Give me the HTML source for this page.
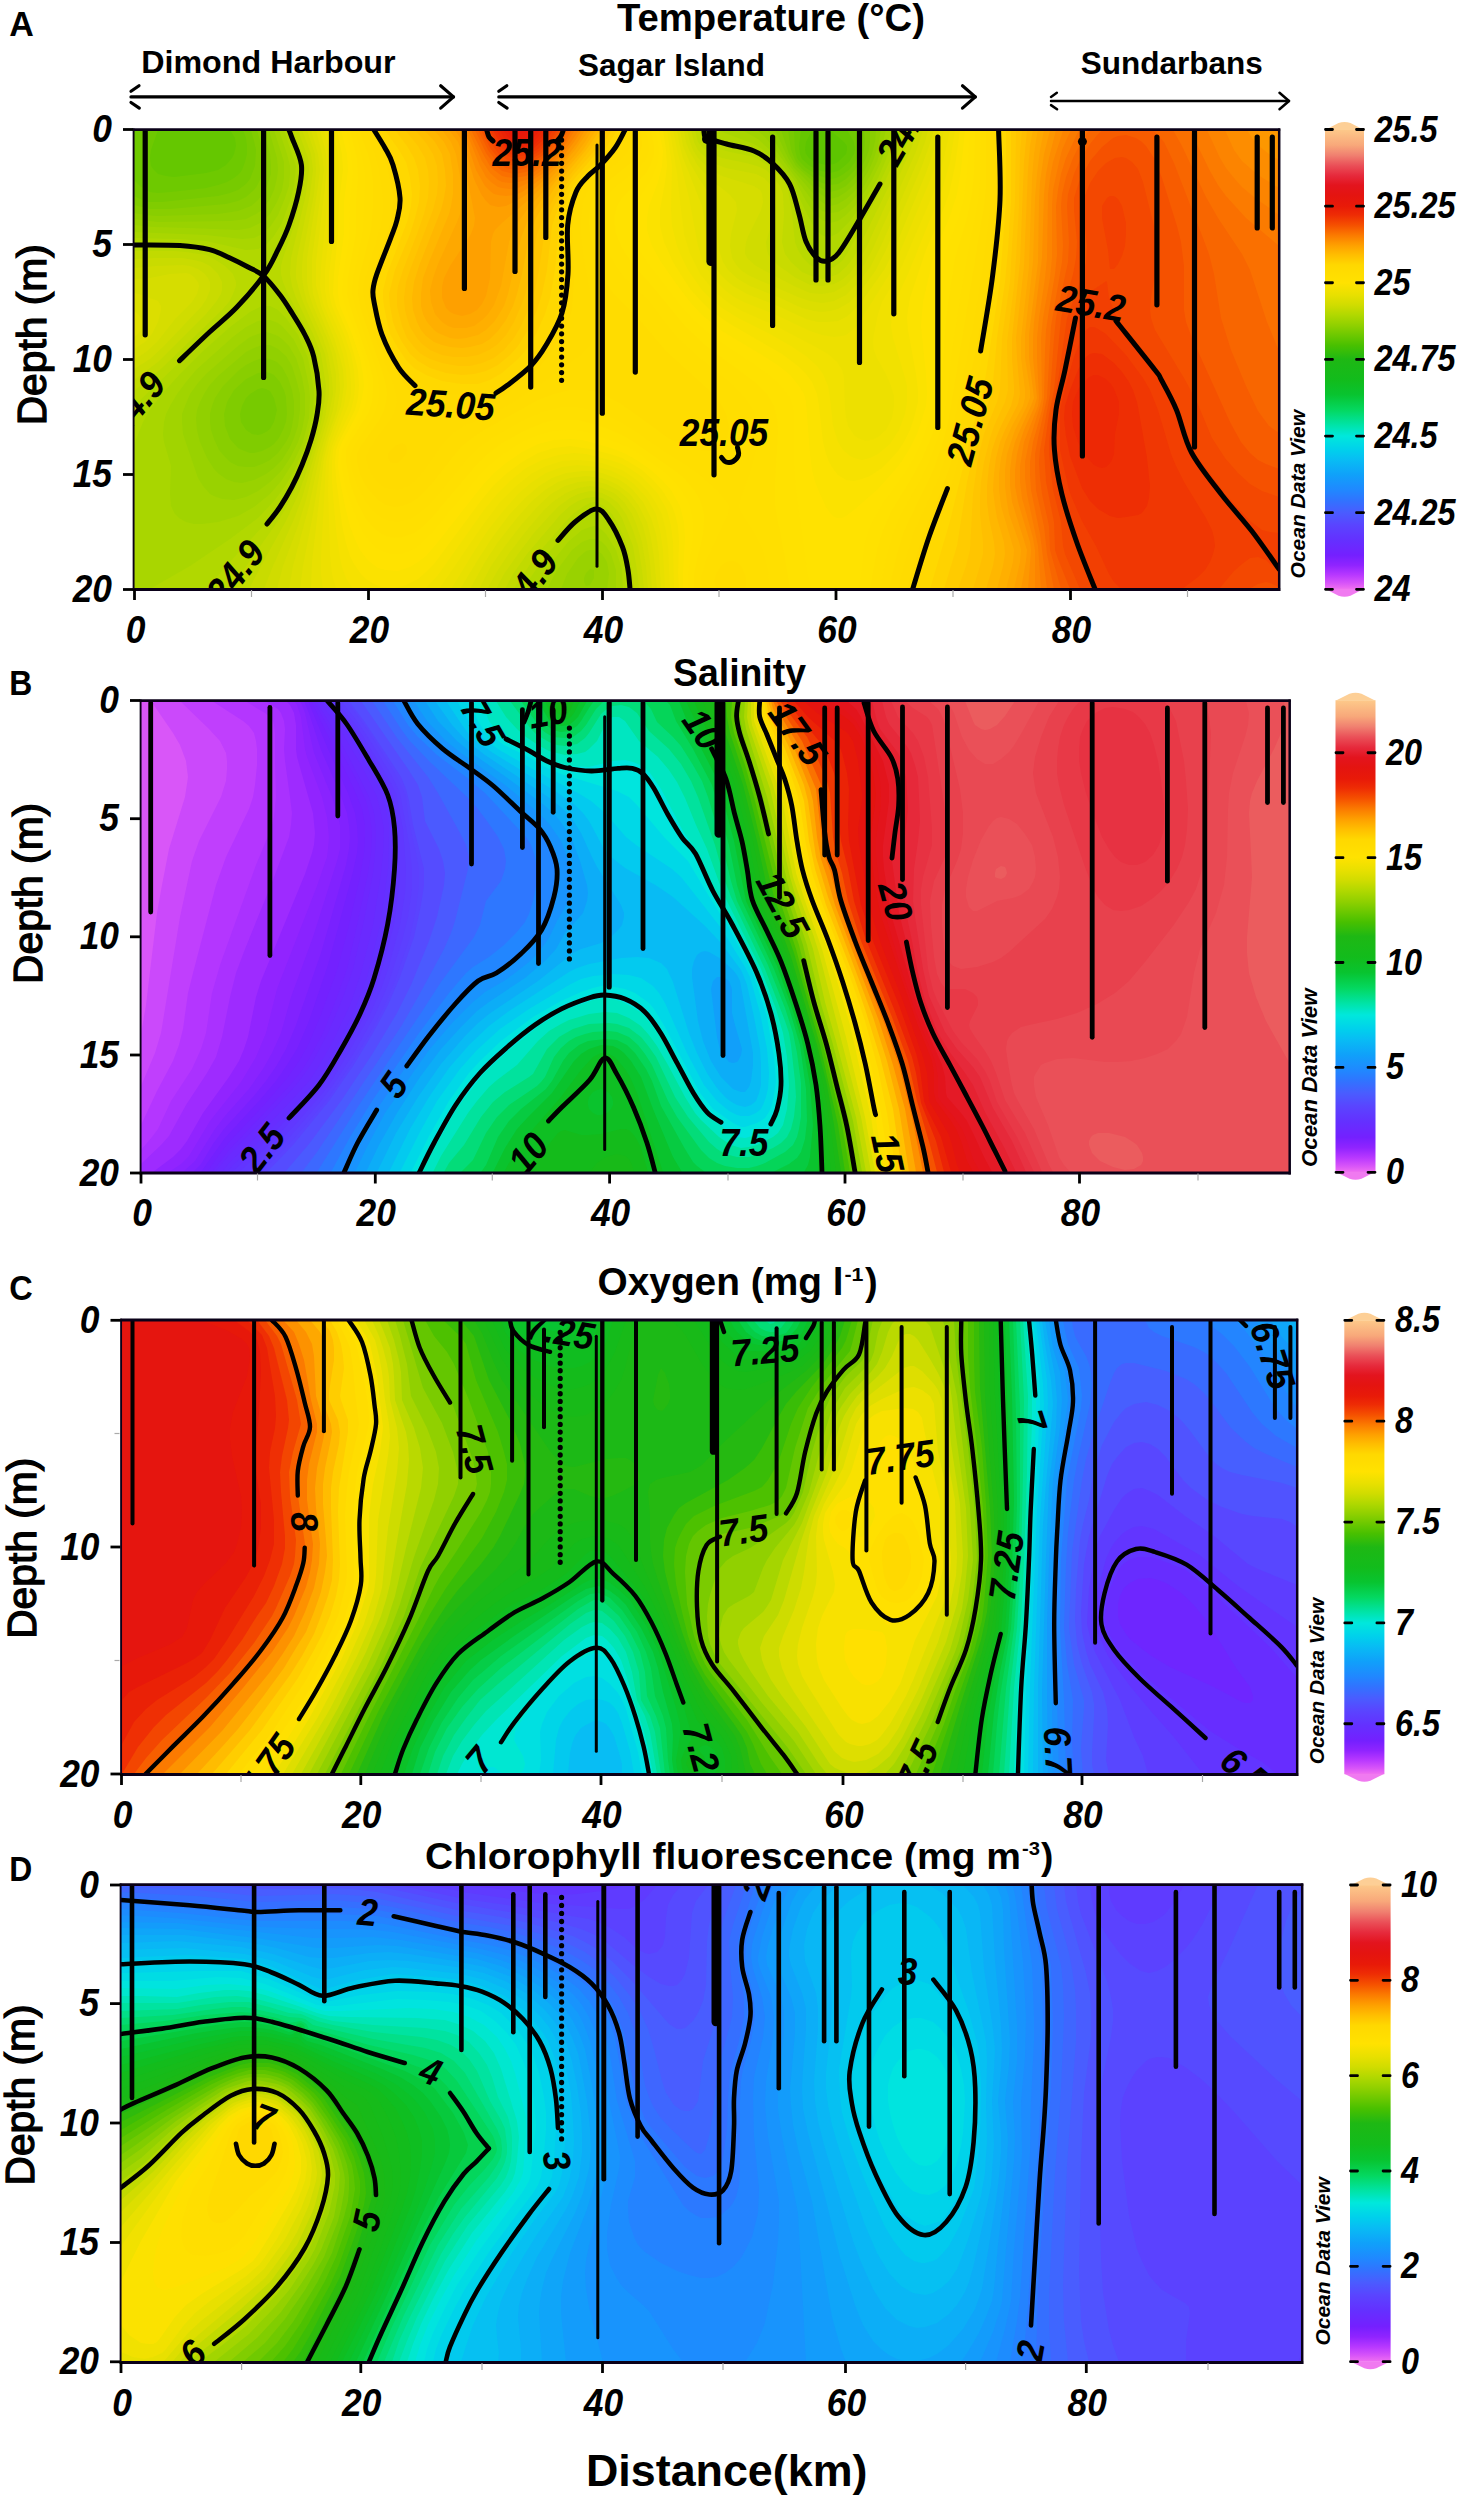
<!DOCTYPE html>
<html><head><meta charset="utf-8"><title>Hydrographic sections</title>
<style>html,body{margin:0;padding:0;background:#fff}svg{display:block}</style></head>
<body><svg width="1460" height="2500" viewBox="0 0 1460 2500">
<defs><linearGradient id="odv" x1="0" y1="0" x2="0" y2="1"><stop offset="0.0000" stop-color="#FDC98A"/><stop offset="0.0340" stop-color="#F8A87A"/><stop offset="0.0560" stop-color="#F08070"/><stop offset="0.0780" stop-color="#EA5058"/><stop offset="0.1000" stop-color="#E62A3C"/><stop offset="0.1210" stop-color="#E3141E"/><stop offset="0.1430" stop-color="#E41410"/><stop offset="0.1667" stop-color="#E81A08"/><stop offset="0.1860" stop-color="#EE2C04"/><stop offset="0.2080" stop-color="#F55000"/><stop offset="0.2300" stop-color="#FB7A00"/><stop offset="0.2520" stop-color="#FEA000"/><stop offset="0.2730" stop-color="#FFBE00"/><stop offset="0.2950" stop-color="#FFD800"/><stop offset="0.3333" stop-color="#FFE200"/><stop offset="0.3600" stop-color="#E8E000"/><stop offset="0.3820" stop-color="#D0DC00"/><stop offset="0.4040" stop-color="#B0D800"/><stop offset="0.4260" stop-color="#90D000"/><stop offset="0.4480" stop-color="#6CC800"/><stop offset="0.4700" stop-color="#48C000"/><stop offset="0.5000" stop-color="#1EB814"/><stop offset="0.5450" stop-color="#12BC1C"/><stop offset="0.5770" stop-color="#08C430"/><stop offset="0.6100" stop-color="#04D860"/><stop offset="0.6430" stop-color="#00E4A8"/><stop offset="0.6667" stop-color="#00E8DC"/><stop offset="0.6970" stop-color="#00D0EC"/><stop offset="0.7190" stop-color="#08BCF4"/><stop offset="0.7520" stop-color="#10A0FA"/><stop offset="0.7840" stop-color="#2088FF"/><stop offset="0.8060" stop-color="#3074FF"/><stop offset="0.8333" stop-color="#4A5CFF"/><stop offset="0.8610" stop-color="#5A44FF"/><stop offset="0.8930" stop-color="#6430FF"/><stop offset="0.9260" stop-color="#7420FF"/><stop offset="0.9480" stop-color="#9024FF"/><stop offset="0.9690" stop-color="#B838FF"/><stop offset="0.9870" stop-color="#D855F8"/><stop offset="1.0000" stop-color="#F070F0"/></linearGradient></defs>
<rect width="1460" height="2500" fill="#fff"/>
<clipPath id="clipA"><rect x="134" y="130" width="1145" height="459"/></clipPath><g clip-path="url(#clipA)"><rect x="134" y="130" width="1145" height="459" fill="#5dc500"/>
<path fill="#65c700" d="M134 130l680 0l-4 4l-4 8l-1 8l1 4l3 4l5 4l12 3l8-1l4-2l8-8l1-4l0-4l-3-4l-14-12l449 0l0 459l-1145 0z"/>
<path fill="#6ec900" d="M134 130l24 0l-7 20l-1 8l1 8l3 4l4 4l8 2l8 1l32-4l12-3l8-5l6-7l2-4l2-8l-1-8l-5-8l571 0l-2 16l1 8l2 5l8 7l8 4l8 2l4 1l8-2l4-3l7-6l5-8l1-4l-1-8l-7-12l432 0l0 459l-1145 0z"/>
<path fill="#77ca00" d="M243 130l551 0l1 20l2 8l3 4l6 6l12 7l8 3l4 1l6-1l6-3l8-6l5-7l4-8l1-8l-1-8l-2-8l422 0l0 459l-1145 0l0-409l6 6l6 4l4 2l8 1l12-1l36-4l12-3l9-3l7-4l5-4l3-4l3-8l2-8l0-8l-1-8z"/>
<path fill="#80cc00" d="M251 130l537 0l3 20l5 12l6 7l12 9l8 5l8 2l8-1l8-5l8-8l4-6l4-7l2-8l1-8l-1-12l415 0l0 459l-1145 0l0-393l8 4l7 2l13 0l56-6l12-3l8-3l8-6l4-5l5-13l1-16l-2-9zM258 389l-8 5l-4 4l-4 8l-2 8l1 8l5 8l6 4l6 1l4-1l4-2l4-3l4-7l3-12l-3-12l-4-7l-4-2l-4-1z"/>
<path fill="#89ce00" d="M257 130l524 0l8 24l7 12l22 20l8 5l4 1l8-2l8-4l8-8l6-8l6-12l3-8l1-8l0-12l409 0l0 459l-1145 0l0-384l16 4l20 0l56-5l12-3l8-4l8-7l3-4l4-8l2-8l1-8l-1-12zM258 373l-12 6l-12 11l-7 12l-3 12l1 12l5 13l8 9l4 2l8 3l4 0l8-2l8-4l4-3l5-6l4-8l3-8l1-8l-1-17l-2-7l-4-8l-6-7l-4-2l-4-1z"/>
<path fill="#91d000" d="M263 130l512 0l13 28l6 10l24 24l8 6l4 1l8-2l8-5l8-7l8-11l5-8l5-12l3-12l1-12l403 0l0 459l-1145 0l0-376l12 2l12 1l60-2l20-3l13-5l7-6l5-6l4-8l4-12l0-8l-1-12zM254 361l-8 4l-8 6l-15 15l-8 12l-3 8l-2 8l0 8l1 8l3 9l5 11l7 8l4 4l8 4l8 1l8 0l8-3l8-4l8-7l8-11l4-8l2-8l2-12l0-12l-2-12l-4-12l-6-11l-5-5l-7-3l-8-1z"/>
<path fill="#99d200" d="M269 130l498 0l7 10l13 22l6 8l25 29l8 6l4 1l8-2l8-5l8-7l8-11l7-11l5-12l4-12l3-16l398 0l0 459l-1145 0l0-370l24 3l72-1l16-2l10-5l6-4l8-11l4-9l3-12l1-8l-1-12zM590 569l-4 4l-2 5l0 4l2 4l4-1l4-7l0-8zM262 345l-8 3l-8 4l-28 24l-9 10l-5 8l-4 8l-3 8l-1 8l1 12l3 12l7 16l7 11l5 5l7 5l8 3l8 1l12-3l12-6l8-6l8-8l8-13l4-9l4-12l2-16l0-16l-3-12l-5-16l-6-10l-8-7l-8-4z"/>
<path fill="#a1d400" d="M274 130l483 0l9 8l8 10l40 55l8 8l8 2l8-1l8-5l8-8l10-13l6-10l7-14l5-16l4-16l393 0l0 459l-672 0l2-15l-2-12l-5-8l-4-3l-4-1l-4 0l-4 1l-8 7l-11 16l-6 15l-427 0l0-364l20 2l36 1l48 2l12-2l12-6l8-8l7-12l5-12l2-12l0-8l0-8zM258 334l-8 3l-12 9l-32 28l-8 9l-8 11l-5 12l-3 8l0 8l1 12l15 44l5 8l7 8l4 2l8 3l12 1l12-3l12-6l12-9l12-12l8-12l8-16l4-12l3-16l0-20l-3-17l-6-19l-7-12l-7-7l-4-3l-8-3l-4-1z"/>
<path fill="#a9d600" d="M279 130l463 0l16 9l12 11l26 32l10 19l8 12l8 7l8 3l8-2l8-6l8-8l12-17l7-12l8-16l11-32l387 0l0 459l-663 0l0-19l-5-16l-5-8l-4-4l-4-2l-4-1l-4 0l-8 3l-10 8l-15 20l-10 19l-413 0l0-357l72 3l36 4l12-1l8-4l8-7l8-12l7-17l4-12l1-12l0-8l-3-12zM258 321l-12 6l-12 9l-38 34l-10 12l-9 12l-7 12l-4 8l-2 8l-1 12l1 8l7 24l-1 28l1 12l4 8l4 4l7 4l8 2l8 0l16-2l20-6l16-9l16-13l12-14l12-19l9-19l6-24l1-20l-1-12l-6-28l-9-18l-4-5l-8-9l-4-3l-8-3l-4 0z"/>
<path fill="#b1d800" d="M284 130l433 0l37 14l8 5l12 10l18 23l14 30l8 15l4 5l4 3l4 2l4 0l8-4l12-12l21-31l7-12l7-16l12-32l382 0l0 459l-656 0l-1-19l-6-20l-10-16l-4-4l-4-3l-4-1l-4 1l-8 3l-14 12l-19 24l-14 23l-385 0l40-23l40-27l28-21l16-17l12-16l8-14l12-28l7-29l1-24l-6-32l-10-23l-12-17l-8-8l-8-4l-8 0l-12 6l-20 15l-28 25l-22 22l-18 20l-12 16l-7 12l-9 23l0-207l44 1l28 2l40 9l12-1l8-4l8-9l8-13l9-25l3-12l2-20z"/>
<path fill="#b9d900" d="M288 130l417 0l1 5l4 4l44 11l16 11l4 3l15 18l2 4l17 56l10 14l4 3l4 0l8-5l5-4l23-36l18-32l13-28l9-24l377 0l0 459l-650 0l-2-19l-6-24l-12-24l-11-10l-4-1l-20 13l-13 14l-20 24l-18 27l-317 0l31-35l29-31l12-15l12-19l8-16l12-31l7-28l1-24l-5-32l-9-24l-22-34l-4-5l-8-8l-4-2l-4 0l-8 6l-18 19l-27 24l-75 72l0-162l44 1l28 3l8 2l40 17l8 1l4-3l8-11l12-24l4-11l8-29l3-24z"/>
<path fill="#c1da00" d="M293 130l406 0l3 9l4 5l4 2l16 5l28 6l15 9l5 4l10 12l2 4l2 4l4 24l3 28l3 8l5 8l7 7l8 4l4 1l4 0l8-3l8-6l5-7l36-68l25-56l371 0l0 459l-645 0l-2-19l-4-20l-2-8l-9-20l-5-8l-8-8l-6-3l-4-1l-4 1l-6 3l-11 8l-7 7l-32 37l-20 31l-283 0l18-27l29-41l8-13l8-16l11-26l8-24l7-28l2-24l-5-36l-8-20l-21-40l-5-12l-2-8l0-8l2-8l11-32l8-32l3-24l0-8zM134 254l0-3l40 0l12 1l20 3l8 4l11 7l8 8l3 8l0 4l-3 8l-4 8l-7 8l-60 58l-28 23z"/>
<path fill="#c9db00" d="M298 130l397 0l3 12l4 5l8 6l12 5l24 5l11 3l9 4l8 8l6 8l3 8l1 20l-2 28l2 8l1 4l6 8l11 10l12 5l8 2l8-2l8-3l8-7l8-10l35-71l19-44l5-12l366 0l0 459l-640 0l-2-19l-4-24l-11-28l-5-8l-8-8l-7-4l-8-1l-8 1l-8 3l-8 5l-9 8l-34 40l-14 20l-8 15l-256 0l12-23l25-45l12-26l8-22l11-35l5-20l3-20l1-12l-5-32l-8-20l-17-36l-4-12l-2-12l1-16l15-64l3-24l-1-12zM153 258l29 0l12 2l8 2l8 4l8 8l4 8l0 8l-1 4l-5 8l-10 12l-48 48l-24 18l0-121z"/>
<path fill="#d0dc00" d="M302 130l389 0l3 12l4 8l4 4l8 7l8 4l8 3l30 6l8 4l6 6l4 6l2 12l-2 14l-8 26l1 8l1 4l3 4l8 8l17 12l14 7l12 1l12-2l8-4l8-7l8-11l9-16l42-92l9-24l361 0l0 459l-635 0l-2-19l-4-24l-5-16l-7-16l-8-11l-8-6l-8-4l-12-2l-12 3l-8 4l-11 8l-8 8l-17 19l-16 21l-14 20l-8 15l-232 0l9-23l21-47l8-21l23-80l4-24l0-16l-4-24l-7-18l-15-34l-4-12l-3-12l0-8l1-12l13-64l3-24l-1-8l-1-8zM156 266l26-1l8 1l8 3l7 5l3 4l2 4l0 8l-3 8l-5 8l-38 40l-14 13l-16 10l0-101z"/>
<path fill="#d6dd00" d="M307 130l380 0l3 12l3 8l5 8l8 8l8 6l8 4l32 10l6 4l2 4l1 8l-2 8l-12 24l-3 8l-1 8l0 4l2 4l9 8l38 20l16 7l12 1l12-2l12-7l11-11l9-12l8-16l41-92l8-24l356 0l0 459l-631 0l-2-23l-4-24l-5-16l-5-12l-8-12l-10-9l-12-5l-12-2l-12 2l-12 5l-12 8l-10 9l-17 20l-17 22l-12 18l-11 19l-210 0l6-23l15-40l8-26l11-46l12-40l4-20l-1-16l-4-24l-5-16l-16-36l-3-12l-2-12l0-12l1-12l11-60l2-24l-1-16zM170 274l16-1l4 1l4 3l4 5l1 4l-2 8l-5 8l-16 16l-19 24l-11 10l-12 8l0-81l16-1z"/>
<path fill="#dcde00" d="M311 130l373 0l2 12l3 8l9 16l12 13l19 15l7 8l1 8l-6 24l-1 12l2 12l5 8l5 5l8 5l48 21l12 4l12 2l12-2l12-6l12-12l13-17l10-20l38-88l6-16l3-12l351 0l0 459l-627 0l-2-27l-3-20l-4-16l-7-16l-9-12l-9-8l-12-6l-8-2l-8-1l-12 1l-13 4l-14 8l-13 12l-16 18l-17 22l-14 20l-12 23l-190 0l4-23l16-60l11-52l13-44l3-20l0-16l-4-20l-5-16l-14-32l-4-12l-2-12l0-12l0-12l11-72l2-16l-2-16zM134 294l0-1l5 1l19 7l3 5l0 4l-3 12l-6 12l-7 8l-11 7z"/>
<path fill="#e2df00" d="M316 130l364 0l3 16l7 17l8 14l14 21l3 8l3 12l0 20l1 12l4 12l5 8l10 9l12 7l28 11l24 11l12 3l8 1l8-1l8-2l12-7l12-13l14-19l10-20l36-84l7-20l5-16l345 0l0 459l-622 0l-3-31l-3-20l-4-16l-8-16l-9-12l-12-9l-8-4l-8-3l-16-2l-16 2l-12 4l-13 8l-14 12l-14 16l-19 24l-13 20l-15 27l-170 0l3-23l10-52l9-56l4-16l11-32l3-20l-1-16l-3-20l-6-16l-13-32l-4-12l-1-12l0-24l12-88l-2-16zM134 314l0-3l4 3l3 4l1 4l0 4l-1 4l-3 4l-4 3z"/>
<path fill="#e8e000" d="M320 130l357 0l2 12l4 16l19 48l2 12l3 24l3 12l5 12l5 8l6 6l7 6l14 8l31 12l28 13l12 3l8 0l12-1l8-4l4-3l12-13l22-31l10-20l32-77l8-23l5-20l340 0l0 459l-618 0l-2-35l-3-20l-5-16l-8-16l-10-12l-7-6l-8-5l-16-6l-8-2l-12 0l-16 2l-14 5l-13 8l-14 12l-15 16l-18 24l-13 20l-19 31l-149 0l1-27l12-104l4-16l13-36l3-20l-1-16l-4-16l-5-16l-13-32l-5-20l0-24l11-92l-1-16z"/>
<path fill="#ede000" d="M324 130l349 0l5 24l11 44l9 48l5 16l10 16l13 13l8 6l12 6l28 11l36 17l12 4l12 2l8-1l4-1l4-3l7-6l35-56l7-16l32-76l8-24l5-24l335 0l0 459l-614 0l-2-39l-3-20l-4-16l-9-16l-13-14l-8-6l-8-4l-8-4l-12-3l-20-2l-16 2l-16 6l-14 9l-14 12l-14 16l-16 20l-13 20l-24 39l-128 0l-2-15l0-16l5-96l4-18l14-38l3-20l-1-16l-3-16l-5-16l-14-32l-2-8l-2-12l1-20l10-96l-1-16z"/>
<path fill="#f1e100" d="M328 130l342 0l7 44l5 44l2 16l6 20l10 20l14 17l16 13l12 7l34 15l38 20l14 8l9 8l5 8l2 8l1 32l1 8l2 8l6 9l4 3l8 3l8-2l4-2l8-7l6-12l2-12l0-10l-3-10l-5-12l-9-16l-3-8l-1-8l1-8l4-20l4-12l12-20l8-16l31-72l10-32l7-32l329 0l0 459l-609 0l-2-43l-2-16l-4-16l-9-16l-6-8l-8-8l-9-7l-8-5l-8-3l-12-4l-12-2l-12-1l-16 1l-16 5l-15 8l-15 12l-16 16l-15 20l-46 67l-103 0l-4-15l-2-20l-2-64l1-28l3-16l16-40l3-12l0-12l-1-12l-3-16l-5-16l-14-32l-3-16l0-20l4-36l2-32l4-32l-1-16z"/>
<path fill="#f6e100" d="M333 130l334 0l5 36l-1 44l1 16l5 20l5 12l6 12l14 20l8 8l12 10l16 10l32 16l21 12l15 10l11 10l6 8l5 12l2 12l3 28l5 16l5 8l7 6l4 2l8 2l8-2l8-4l12-10l9-14l6-16l2-12l0-16l-3-12l-11-36l-2-12l1-12l3-12l13-28l34-84l8-28l5-32l324 0l0 459l-605 0l-1-47l-2-16l-4-16l-9-16l-7-8l-9-9l-10-7l-10-6l-12-4l-12-3l-12-3l-12-1l-16 2l-16 5l-16 8l-16 13l-13 13l-13 16l-46 65l-13 14l-72 0l-7-11l-4-11l-2-9l-4-28l-4-48l0-20l1-12l3-8l15-32l3-12l1-12l-1-16l-3-16l-7-20l-12-28l-2-8l-1-8l0-16l5-40l1-32l4-32l-1-16z"/>
<path fill="#fbe200" d="M337 130l326 0l3 20l1 16l-2 16l-5 28l0 16l4 16l9 20l10 16l8 12l11 12l8 8l20 14l52 30l16 12l8 8l6 8l5 12l2 12l4 36l3 12l3 8l5 8l4 5l8 5l8 1l8-2l8-3l12-8l8-8l8-9l6-9l6-12l4-12l4-16l0-12l-2-16l-8-44l-1-12l1-8l2-12l16-48l16-37l7-19l6-28l5-36l319 0l0 459l-600 0l-1-15l1-32l-1-16l-3-12l-3-8l-10-16l-8-9l-12-11l-8-5l-12-7l-12-4l-20-5l-20-3l-16 2l-16 5l-16 9l-16 12l-13 12l-13 16l-46 62l-8 8l-8 7l-12 6l-12 3l-12-1l-8-3l-8-5l-5-5l-7-10l-4-8l-4-13l-4-18l-6-47l-1-16l1-12l3-8l16-32l3-12l1-12l-1-16l-4-16l-6-20l-12-28l-3-12l1-20l4-40l1-32l4-32l-1-16z"/>
<path fill="#ffe200" d="M341 130l318 0l4 20l-1 16l-4 16l-9 24l-2 12l0 12l5 16l9 16l14 20l15 20l12 13l20 16l40 24l17 11l11 9l9 11l5 8l2 8l4 52l2 16l3 12l5 12l6 13l4 6l4 4l4 1l4 0l4-2l8-6l24-21l16-18l8-10l8-13l7-14l4-12l5-16l1-12l-1-20l-5-48l1-12l1-12l11-48l16-38l7-22l4-24l4-40l314 0l0 459l-596 0l0-15l2-36l-1-16l-4-16l-9-16l-9-10l-11-10l-13-9l-12-7l-12-5l-20-6l-12-3l-12-1l-16 1l-16 4l-16 8l-16 11l-12 10l-12 13l-44 56l-12 14l-8 6l-8 5l-12 4l-12-1l-8-2l-8-6l-4-4l-6-8l-6-13l-4-11l-5-20l-4-20l-3-20l1-16l3-8l11-20l6-12l3-12l2-12l-1-12l-3-16l-8-24l-12-28l-2-12l0-16l6-44l0-32l4-32l-1-16z"/>
<path fill="#ffe100" d="M346 130l309 0l4 20l-1 12l-6 16l-15 24l-4 8l-2 12l1 8l2 8l5 12l8 12l34 44l13 14l12 11l12 9l50 34l13 12l9 12l3 8l1 8l0 48l2 28l11 80l4 19l-122 0l-1-15l5-36l0-16l-3-16l-4-8l-5-8l-10-12l-9-8l-20-14l-12-8l-12-5l-20-7l-12-4l-12-2l-8 0l-12 1l-16 4l-16 7l-19 12l-13 11l-12 12l-48 58l-8 8l-8 6l-12 5l-12 0l-8-3l-4-2l-8-7l-8-11l-9-21l-8-24l-4-24l1-12l4-8l14-24l5-12l2-8l1-12l-1-12l-3-16l-8-24l-11-28l-3-12l1-16l6-40l1-36l3-28l-2-20zM970 130l309 0l0 459l-421 0l3-11l4-36l5-16l11-20l21-29l12-19l9-20l8-24l3-20l0-64l3-32l8-44l13-35l6-21l3-24z"/>
<path fill="#ffdf00" d="M350 130l301 0l3 16l0 8l-1 4l-3 8l-4 7l-24 25l-5 8l-3 12l1 8l1 8l6 14l9 14l27 31l27 33l21 20l49 36l12 12l7 12l3 12l1 12l-3 52l0 24l10 52l5 31l-96 0l0-7l0-8l9-40l1-12l0-8l-2-8l-3-8l-5-8l-10-12l-10-8l-40-28l-12-7l-16-7l-16-5l-12-3l-16 0l-8 0l-12 3l-20 9l-20 11l-12 9l-12 11l-44 52l-12 12l-8 6l-12 4l-8 1l-8-2l-4-2l-8-6l-8-9l-9-17l-7-19l-4-21l0-12l4-8l18-28l4-12l1-12l0-12l-4-16l-19-56l-3-12l1-16l8-44l0-32l2-24l-1-20zM975 130l304 0l0 459l-409 0l7-39l6-20l9-20l22-36l8-15l9-21l7-24l3-20l5-76l6-40l3-20l12-40l5-24l2-20z"/>
<path fill="#ffde00" d="M355 130l291 0l3 20l-3 9l-8 10l-26 21l-6 7l-3 5l-2 8l-1 8l1 8l2 12l8 20l11 17l28 27l18 24l10 12l16 15l40 33l11 12l8 12l3 8l1 8l0 20l-5 20l-11 32l-2 8l1 4l2 4l12 18l9 18l5 20l2 19l-68 0l-1-11l5-17l22-47l1-8l-2-4l-10-12l-18-16l-13-9l-24-15l-24-17l-16-10l-16-8l-12-4l-12-3l-8-1l-12 0l-20 5l-20 9l-30 17l-14 10l-10 10l-30 37l-10 11l-10 8l-8 5l-12 3l-8-1l-8-3l-10-8l-6-8l-8-15l-6-17l-2-12l1-4l3-8l16-24l6-12l3-12l0-8l-1-12l-3-12l-20-60l-3-12l1-16l7-32l3-16l2-44l0-12l-2-12zM981 130l298 0l0 459l-399 0l7-35l6-20l8-20l21-37l8-17l8-22l6-24l3-16l5-48l12-76l14-72l2-20z"/>
<path fill="#ffdc00" d="M359 130l282 0l1 16l-3 8l-7 8l-30 24l-4 4l-5 8l-3 12l-1 12l1 12l4 16l8 24l6 12l6 8l24 24l27 32l44 40l13 16l4 8l3 12l-2 12l-5 8l-6 4l-6 1l-12-1l-12-4l-18-8l-34-25l-16-11l-12-6l-12-5l-8-1l-16 0l-16 4l-16 6l-54 30l-12 8l-10 8l-7 8l-21 27l-8 9l-8 8l-8 5l-8 3l-8 1l-8-2l-8-5l-8-9l-4-5l-6-12l-3-12l0-8l4-8l17-24l6-12l2-8l1-8l-1-8l-3-12l-22-64l-3-16l1-16l12-48l2-24l0-24l-2-16l-3-12zM986 130l293 0l0 459l-390 0l8-35l6-20l7-16l18-36l7-16l8-24l6-24l35-212l2-20zM726 562l4-1l4 0l4 2l4 4l4 11l0 5l-1 6l-28 0l-3-7l2-8l5-8z"/>
<path fill="#ffdb00" d="M365 130l270 0l-2 12l-4 8l-7 8l-28 25l-8 11l-3 8l-2 20l0 12l2 20l11 60l1 12l-1 12l-4 8l-8 8l-11 8l-22 16l-39 26l-16 9l-31 13l-9 6l-10 10l-18 26l-8 10l-10 8l-10 4l-8-1l-4-1l-8-5l-8-11l-3-10l-1-4l3-8l5-8l18-24l3-8l2-8l-1-8l-2-8l-20-51l-10-37l-1-8l1-8l17-56l2-12l0-12l-2-20l-3-16l-3-12zM991 130l288 0l0 459l-381 0l8-31l7-24l24-52l7-20l6-21l6-27l18-93l8-47l8-64l1-16z"/>
<path fill="#ffd900" d="M370 130l259 0l-11 20l-14 16l-14 12l-9 12l-3 7l-6 29l2 52l-2 32l-4 12l-15 28l-16 20l-31 24l-12 7l-12 4l-12 3l-32 3l-8-1l-4-1l-12-11l-16-23l-4-7l-14-30l-10-36l-1-12l5-20l17-48l1-8l2-16l-7-32l-6-16zM996 130l283 0l0 459l-372 0l15-51l21-52l7-20l7-28l19-88l13-76l8-72zM395 446l7-3l4 2l1 5l-1 4l-4 5l-4 4l-4 0l-4-1l-2-4l0-4l2-3z"/>
<path fill="#ffd800" d="M377 130l246 0l-12 20l-10 12l-15 14l-11 14l-2 4l-8 32l-1 48l-5 32l-3 8l-11 24l-5 8l-14 19l-24 20l-12 6l-16 4l-24-1l-12-3l-16-7l-8-5l-13-13l-17-32l-8-32l0-12l4-16l20-52l3-24l-5-28l-2-8l-9-16zM1001 130l278 0l0 459l-362 0l16-51l21-61l8-31l21-92l12-76l7-76z"/>
<path fill="#ffd200" d="M385 130l232 0l-12 20l-10 12l-13 13l-9 11l-4 8l-10 32l-4 44l-5 28l-5 16l-9 20l-10 16l-8 9l-16 14l-12 7l-12 4l-16 0l-20-3l-16-6l-12-7l-8-8l-8-12l-8-14l-2-8l-4-20l-1-8l0-8l4-16l20-52l4-16l1-12l-2-16l-4-16l-7-12zM1006 130l273 0l0 459l-349 0l20-68l23-95l10-36l3-16l14-92l2-28l4-52z"/>
<path fill="#ffcb00" d="M395 130l217 0l-13 20l-29 34l-8 14l-6 16l-4 12l-5 44l-5 24l-5 16l-9 20l-10 16l-8 9l-12 10l-12 6l-12 3l-12 1l-16-2l-16-5l-12-7l-8-7l-8-12l-6-12l-3-8l-3-16l-1-12l2-8l4-16l15-36l5-16l4-16l1-16l-2-16l-4-12l-7-12zM1011 130l268 0l0 459l-335 0l13-43l10-64l8-36l5-20l10-28l3-16l4-44l8-56l3-32l3-48z"/>
<path fill="#ffc500" d="M405 130l203 0l-13 20l-21 24l-9 12l-13 24l-7 20l-6 40l-4 20l-7 20l-7 16l-7 12l-10 12l-10 8l-12 5l-12 3l-12 0l-16-3l-12-4l-9-5l-7-7l-7-9l-5-12l-5-20l0-12l1-8l5-16l14-36l7-20l4-16l1-16l-1-12l-3-12l-7-12zM1016 130l263 0l0 459l-321 0l8-23l4-16l3-56l5-36l6-24l13-32l3-12l2-52l8-56l2-36l3-44z"/>
<path fill="#ffbf00" d="M415 130l189 0l-14 20l-29 36l-16 28l-8 20l-7 40l-4 18l-5 14l-7 16l-8 13l-8 9l-9 6l-11 5l-12 2l-12 0l-12-2l-12-5l-8-6l-5-6l-7-11l-3-9l-2-8l-1-12l2-16l4-12l23-60l4-16l1-12l-1-16l-4-12l-7-11zM1022 130l257 0l0 459l-306 0l7-23l3-12l0-12l-3-28l0-16l1-16l3-20l6-24l4-12l11-24l3-12l-1-48l7-56l2-28l3-52l1-52z"/>
<path fill="#ffb700" d="M424 130l176 0l-14 20l-30 36l-13 20l-7 12l-7 20l-7 36l-5 20l-4 12l-7 14l-8 11l-8 8l-8 5l-12 3l-8 1l-12-1l-8-2l-8-3l-8-6l-5-6l-4-8l-4-12l-1-12l2-16l5-16l22-56l3-12l2-12l-1-16l-3-16l-7-12zM1027 130l252 0l0 459l-293 0l7-23l2-12l-1-12l-5-24l-2-16l0-16l2-20l3-16l4-12l5-12l10-20l3-12l0-8l-2-28l0-20l8-76l4-100z"/>
<path fill="#ffaf00" d="M434 130l162 0l-13 20l-28 32l-15 20l-13 20l-6 16l-13 56l-4 12l-6 10l-4 6l-8 8l-8 5l-12 3l-8 1l-8-1l-12-5l-4-3l-7-8l-4-8l-2-8l0-12l2-16l6-16l20-48l2-8l2-12l0-20l-3-20l-6-12zM1033 130l246 0l0 459l-282 0l6-23l2-12l-1-12l-7-24l-2-12l-2-16l1-16l2-16l4-16l5-12l13-26l2-10l-3-36l-1-20l8-72l4-96l2-24z"/>
<path fill="#fea800" d="M442 130l150 0l-7 12l-9 12l-49 56l-9 12l-5 8l-4 12l-8 44l-7 19l-6 9l-6 6l-8 6l-8 2l-12 0l-6-2l-6-4l-7-8l-4-12l-1-12l3-12l5-14l19-42l3-8l2-12l-1-20l-5-28l-5-12zM1037 134l1-4l241 0l0 459l-273 0l7-27l1-12l-13-44l-2-16l0-16l2-16l4-16l7-16l11-20l2-8l0-8l-4-32l0-20l8-72l3-88l2-24z"/>
<path fill="#fea000" d="M449 130l140 0l-14 20l-25 29l-16 16l-31 27l-8 8l-2 4l-2 8l-1 36l-4 18l-4 8l-5 6l-7 4l-8 2l-8-2l-4-2l-4-4l-4-10l0-11l2-9l6-12l21-32l3-8l1-8l-3-16l-11-52l-3-8zM1044 130l235 0l0 459l-265 0l6-27l1-12l-2-8l-10-28l-2-12l-2-16l0-16l2-16l4-12l4-12l12-24l3-8l0-8l-5-32l0-24l8-72l2-64l2-24l3-24z"/>
<path fill="#fd9700" d="M455 130l130 0l-7 12l-9 12l-15 16l-16 16l-8 6l-12 8l-12 6l-8 1l-8-2l-4-4l-5-7l-7-15l-11-37zM1050 130l229 0l0 459l-258 0l5-28l1-11l-15-48l-2-16l0-16l2-16l3-12l5-12l11-24l3-8l-5-40l0-24l9-72l1-60l1-20l4-28z"/>
<path fill="#fd8d00" d="M460 130l122 0l-8 12l-9 12l-11 12l-12 12l-8 6l-12 8l-8 3l-8 1l-8-1l-4-1l-4-3l-5-5l-9-16l-10-30zM1056 130l191 0l5 8l7 8l10 8l10 6l0 429l-251 0l3-39l-1-8l-12-40l-3-16l0-16l2-16l3-12l4-12l10-22l3-10l-4-40l0-20l1-16l8-64l2-64l2-20l3-16z"/>
<path fill="#fc8400" d="M464 130l115 0l-8 12l-9 12l-20 20l-16 10l-8 4l-8 1l-8-1l-4-1l-7-5l-5-5l-6-11l-10-25zM1062 134l1-4l162 0l9 20l8 11l16 14l21 13l0 401l-244 0l0-39l-2-12l-11-40l-2-16l0-16l2-12l2-12l14-36l1-8l-2-40l0-20l2-20l6-40l2-20l1-64l2-16l3-16z"/>
<path fill="#fb7b00" d="M468 130l107 0l-13 20l-8 9l-12 11l-8 6l-8 4l-8 2l-8 1l-8-1l-4-2l-8-7l-8-12zM1069 134l2-4l136 0l13 28l6 10l8 10l8 9l12 10l25 18l0 374l-238 0l-3-43l-11-52l-2-16l0-16l4-20l11-36l2-8l-1-60l2-20l7-40l2-20l0-16l0-36l1-16l6-28l3-12z"/>
<path fill="#fa7000" d="M471 130l101 0l-7 12l-6 8l-17 16l-8 6l-8 4l-12 2l-8-1l-4-1l-8-6l-4-4l-7-12zM1077 134l2-4l111 0l20 41l8 14l8 11l20 22l33 28l0 343l-232 0l-7-55l-9-44l-1-16l0-12l3-20l9-32l2-12l1-48l1-20l3-20l6-36l2-20l-1-48l2-16l3-16l5-16z"/>
<path fill="#f86600" d="M475 130l94 0l-11 17l-16 16l-8 5l-8 4l-12 2l-8-2l-4-1l-8-7l-8-11zM1089 130l84 0l9 16l24 51l12 21l24 36l8 16l17 52l12 29l0 238l-225 0l-7-35l-3-28l-8-36l-1-20l0-16l3-16l9-40l4-72l11-64l1-16l-2-40l1-12l4-17l7-19l8-16z"/>
<path fill="#f75c00" d="M478 130l88 0l-11 16l-13 13l-12 8l-12 3l-8-1l-4-1l-9-6l-9-12zM1098 134l5-4l50 0l11 12l10 21l29 75l6 16l5 20l7 44l10 32l15 36l12 25l11 15l10 7l0 156l-218 0l-11-39l-1-24l-7-32l-2-16l-1-16l1-12l10-56l4-56l2-20l12-56l1-20l-2-36l1-12l6-20l7-16l9-14z"/>
<path fill="#f55100" d="M481 130l82 0l-9 13l-12 13l-12 7l-12 3l-8-1l-4-2l-8-5l-8-10zM1113 138l5-2l8-1l10 3l6 4l4 4l8 12l8 20l15 48l4 16l3 24l0 44l2 12l6 16l38 84l11 20l9 11l8 7l8 4l13 5l0 120l-209 0l-12-30l-3-9l-1-28l-8-40l-2-32l5-36l5-24l7-72l12-44l3-16l1-16l-3-32l0-12l5-16l11-21l12-14z"/>
<path fill="#f34801" d="M484 130l76 0l-10 14l-10 10l-10 6l-12 3l-8-2l-4-2l-7-5l-9-12zM1115 158l7-1l4 1l6 4l6 7l5 13l10 40l4 20l0 16l-2 16l-4 24l-1 12l1 8l4 12l29 48l13 24l15 36l13 20l13 15l12 11l12 7l17 6l0 90l-9-4l-4-1l-8 2l-9 5l-169 0l-15-35l-2-8l-2-24l-8-32l-4-36l0-12l4-32l6-36l8-56l16-44l3-12l1-16l-4-36l1-12l6-15l8-12l8-8z"/>
<path fill="#f23f02" d="M487 130l70 0l-8 12l-11 10l-8 5l-8 2l-4 0l-8-2l-8-5l-8-9zM1107 198l3-2l4 0l4 3l4 7l4 17l0 11l-1 12l-3 10l-4 8l-4 5l-4 0l-2-19l-6-32l0-12zM1105 282l1-1l1 1l2 16l8 20l40 52l8 12l14 28l13 36l3 8l30 40l25 27l12 9l8 2l9 1l0 38l-7-5l-6-6l-8-3l-8 1l-8 6l-8 7l-15 18l-126 0l-17-43l-14-48l-8-44l0-8l2-36l19-92l15-26z"/>
<path fill="#f03703" d="M490 130l63 0l-7 11l-8 8l-12 6l-8 1l-8-2l-8-6l-5-6zM1086 330l4-3l4 0l4 2l8 5l20 21l17 23l7 12l8 20l13 44l5 12l8 16l22 36l6 12l2 8l1 8l-2 8l-3 8l-5 8l-7 7l-16 12l-61 0l-3-3l-4-4l-5-8l-13-28l-14-25l-10-23l-3-8l-9-40l0-40l6-26l8-27l8-21z"/>
<path fill="#ee2e04" d="M493 130l57 0l-8 11l-8 7l-8 4l-8 1l-8-3l-6-4l-6-7zM1090 354l4-1l8 1l12 9l8 9l7 10l4 8l4 12l3 16l7 40l3 28l-1 12l-2 8l-5 7l-4 2l-12 2l-8 1l-8-2l-12-7l-8-8l-8-13l-12-32l-4-20l-2-18l1-12l5-16l8-20l8-13z"/>
<path fill="#ed2805" d="M496 130l51 0l-6 8l-7 7l-4 2l-8 3l-8-1l-5-3l-7-6zM1088 378l6-3l4 0l8 4l4 4l4 6l5 13l0 12l-4 20l-1 20l-3 8l-5 5l-4 1l-4-1l-4-2l-8-9l-8-14l-5-16l-1-12l1-12l5-12l4-6z"/>
<path fill="#eb2306" d="M500 130l43 0l-5 7l-4 4l-8 5l-4 1l-8-2l-4-2l-6-5z"/>
<path fill="#e91e07" d="M503 130l37 0l-6 7l-4 3l-8 3l-8-1l-4-3z"/>
<path fill="#e81a08" d="M507 130l28 0l-5 6l-4 3l-4 1l-4 0l-4-2l-4-3z"/>
<path fill="#e7180a" d="M512 130l19 0l-5 4l-4 2l-4 0l-3-2z"/><g stroke="#000" stroke-linecap="round" fill="none"><path d="M145.2 130V334.8" stroke-width="5.2"/><path d="M263.6 130V377.4" stroke-width="5.2"/><path d="M331.5 130V241.4" stroke-width="5.2"/><path d="M464.4 130V288.4" stroke-width="5.2"/><path d="M515 130V271.4" stroke-width="5.2"/><path d="M530.7 130V387.1" stroke-width="5.2"/><path d="M545.8 130V237.4" stroke-width="5.2"/><path d="M597 145V566.3" stroke-width="3"/><path d="M602.3 130V413.2" stroke-width="5.2"/><path d="M635.3 130V372.1" stroke-width="5.2"/><path d="M711 130V261.4" stroke-width="9.2"/><path d="M714 130V474.8" stroke-width="5.2"/><path d="M772.6 137V325.4" stroke-width="5.2"/><path d="M816 132V280" stroke-width="5.2"/><path d="M828 132V280" stroke-width="5.2"/><path d="M859.5 130V362.4" stroke-width="5.2"/><path d="M893.8 130V313.8" stroke-width="5.2"/><path d="M937.8 137V427.4" stroke-width="5.2"/><path d="M1082.4 130V455.9" stroke-width="5.2"/><path d="M1156.9 137V304.8" stroke-width="5.2"/><path d="M1194.5 130V446.9" stroke-width="5.2"/><path d="M1257.2 137V228" stroke-width="5.2"/><path d="M1272.3 137V228" stroke-width="5.2"/><path d="M561.6 140V381.5" stroke-width="5.2" stroke-dasharray="0.1 7.65"/></g><circle cx="707" cy="139" r="5"/><circle cx="1082.4" cy="141.6" r="4.5"/><g fill="none" stroke="#000" stroke-width="5" stroke-linecap="round" stroke-linejoin="round"><path d="M289.0 130.0C289.5 131.2 289.7 131.6 291.8 137.4C293.9 143.2 300.3 155.7 301.4 164.8C302.5 173.9 300.7 182.0 298.6 192.0C296.5 202.0 292.4 215.4 289.0 225.0C285.6 234.6 282.1 241.5 278.0 249.7C273.9 257.9 271.2 264.8 264.4 274.4C257.6 283.9 246.1 297.4 237.0 307.0C227.9 316.6 219.2 323.1 209.6 332.0C200.0 340.9 184.5 355.9 179.5 360.7"/><path d="M134.0 245.0C141.7 245.1 167.4 244.7 180.0 245.5C192.6 246.3 201.3 247.6 209.6 249.7C217.9 251.8 223.6 255.1 230.0 258.0C236.4 260.9 242.4 264.0 248.0 267.0C253.6 270.0 258.3 271.3 263.6 276.0C268.9 280.7 275.3 288.9 280.0 295.0C284.7 301.1 287.6 306.0 291.8 312.7C296.0 319.4 301.4 327.7 305.0 335.0C308.6 342.3 311.4 347.3 313.7 356.6C316.0 365.9 318.4 381.3 319.0 391.0C319.6 400.7 318.3 406.8 317.0 415.0C315.7 423.2 313.5 431.7 311.0 440.0C308.5 448.3 305.2 457.2 302.0 465.0C298.8 472.8 295.5 480.0 291.8 487.0C288.1 494.0 284.1 500.8 280.0 507.0C275.9 513.2 269.2 521.2 267.0 524.0"/><path d="M374.0 130.0C375.8 133.0 381.8 142.2 385.0 148.0C388.2 153.8 390.5 156.7 393.0 165.0C395.5 173.3 399.3 188.5 400.0 197.7C400.7 206.9 398.6 213.2 397.0 220.0C395.4 226.8 393.8 229.7 390.4 238.8C387.0 247.9 379.6 265.9 376.7 274.4C373.8 282.9 373.4 285.4 373.0 290.0C372.6 294.6 372.5 294.4 374.0 301.8C375.5 309.2 377.9 323.8 382.0 334.7C386.1 345.6 393.1 359.0 398.6 367.5C404.1 376.0 412.3 382.6 415.0 385.6"/><path d="M496.0 393.0C497.8 391.8 501.2 390.1 507.0 385.6C512.8 381.1 524.2 372.7 530.7 366.0C537.2 359.3 540.6 354.4 545.8 345.6C551.0 336.8 558.3 324.9 562.0 313.0C565.7 301.1 567.0 288.7 568.0 274.0C569.0 259.3 566.4 238.7 567.7 225.0C569.0 211.3 572.6 200.2 576.0 192.0C579.4 183.8 583.9 180.5 588.0 176.0C592.1 171.5 596.0 169.7 600.5 165.0C605.0 160.3 610.9 153.8 615.0 148.0C619.1 142.2 623.3 133.0 625.0 130.0"/><path d="M704.0 132.0C704.5 133.0 703.2 136.0 707.0 138.0C710.8 140.0 718.8 141.8 726.6 144.0C734.4 146.2 746.3 147.8 754.0 151.0C761.7 154.2 766.7 157.9 772.6 163.4C778.5 168.9 785.2 175.6 789.6 184.0C794.0 192.4 796.3 204.4 799.0 214.0C801.7 223.6 803.0 234.2 806.0 241.5C809.0 248.8 813.6 254.8 817.0 258.0C820.4 261.2 822.9 261.9 826.6 261.0C830.3 260.1 833.5 259.4 839.0 252.5C844.5 245.6 852.7 231.0 859.5 219.6C866.3 208.2 876.6 189.9 880.0 184.0"/><path d="M558.0 540.4C560.8 537.3 568.7 527.2 575.0 522.0C581.3 516.8 590.4 509.3 596.0 509.0C601.6 508.7 604.4 513.7 608.8 520.0C613.2 526.3 619.3 538.7 622.5 547.0C625.7 555.3 626.8 563.0 628.0 570.0C629.2 577.0 629.7 585.8 630.0 589.0"/><path d="M998.6 130.0C998.8 141.7 1001.0 175.7 1000.0 200.0C999.0 224.3 995.8 250.6 992.6 275.8C989.4 301.0 982.6 338.5 980.6 351.0"/><path d="M947.4 488.6C944.3 496.7 934.8 520.3 929.0 537.0C923.2 553.7 915.4 580.3 912.7 589.0"/><path d="M1095.0 589.0C1092.0 581.3 1082.5 558.7 1077.0 543.0C1071.5 527.3 1065.8 510.3 1062.0 494.7C1058.2 479.1 1055.4 463.6 1054.4 449.5C1053.4 435.4 1054.2 423.2 1056.0 410.0C1057.8 396.8 1061.8 385.3 1065.0 370.0C1068.2 354.7 1073.8 326.7 1075.5 318.0"/><path d="M1116.0 321.0C1122.5 329.2 1147.4 360.2 1155.0 370.0C1162.6 379.8 1157.8 373.3 1161.4 380.0C1165.0 386.7 1171.5 397.9 1176.5 410.0C1181.5 422.1 1184.0 438.4 1191.5 452.5C1199.0 466.6 1211.7 481.6 1221.7 494.7C1231.8 507.8 1242.2 518.6 1251.8 531.0C1261.3 543.4 1274.5 562.7 1279.0 569.0"/><path d="M737.5 447.5C737.7 448.8 739.2 452.7 738.5 455.0C737.8 457.3 735.1 460.3 733.0 461.5C730.9 462.7 727.9 462.7 726.0 462.0C724.1 461.3 722.2 458.2 721.5 457.5"/><path d="M487.0 131.0C487.3 132.0 488.0 135.3 489.0 137.0C490.0 138.7 492.3 140.3 493.0 141.0"/><path d="M557.0 141.0C557.7 140.2 560.0 137.7 561.0 136.0C562.0 134.3 562.7 131.8 563.0 131.0"/></g></g><g font-family="Liberation Sans, Arial, sans-serif" fill="#000" clip-path="url(#clipA)"><g transform="translate(135.3 403) rotate(-50)"><text x="-34.4" y="13.5" font-size="38" font-weight="bold" font-style="italic" textLength="68.8" lengthAdjust="spacingAndGlyphs">24.9</text></g><g transform="translate(235 572) rotate(-52)"><text x="-34.4" y="13.5" font-size="38" font-weight="bold" font-style="italic" textLength="68.8" lengthAdjust="spacingAndGlyphs">24.9</text></g><g transform="translate(450.7 404) rotate(4)"><text x="-44.2" y="13.5" font-size="38" font-weight="bold" font-style="italic" textLength="88.4" lengthAdjust="spacingAndGlyphs">25.05</text></g><g transform="translate(527 152) rotate(0)"><text x="-34.4" y="13.5" font-size="38" font-weight="bold" font-style="italic" textLength="68.8" lengthAdjust="spacingAndGlyphs">25.2</text></g><g transform="translate(724 432) rotate(0)"><text x="-44.2" y="13.5" font-size="38" font-weight="bold" font-style="italic" textLength="88.4" lengthAdjust="spacingAndGlyphs">25.05</text></g><g transform="translate(529 582) rotate(-55)"><text x="-34.4" y="13.5" font-size="38" font-weight="bold" font-style="italic" textLength="68.8" lengthAdjust="spacingAndGlyphs">24.9</text></g><g transform="translate(903 131) rotate(-60)"><text x="-34.4" y="13.5" font-size="38" font-weight="bold" font-style="italic" textLength="68.8" lengthAdjust="spacingAndGlyphs">24.9</text></g><g transform="translate(969.5 421) rotate(-75)"><text x="-44.2" y="13.5" font-size="38" font-weight="bold" font-style="italic" textLength="88.4" lengthAdjust="spacingAndGlyphs">25.05</text></g><g transform="translate(1091 303) rotate(10)"><text x="-34.4" y="13.5" font-size="38" font-weight="bold" font-style="italic" textLength="68.8" lengthAdjust="spacingAndGlyphs">25.2</text></g></g><g font-family="Liberation Sans, Arial, sans-serif"><g fill="none" stroke="#0a0018"><path d="M132.8 129.7H1280.2" stroke-width="2.8"/><path d="M132.8 589.5H1280.2" stroke-width="3.2"/><path d="M133.6 128.5V591" stroke-width="1.9"/><path d="M1279.2 128.5V591" stroke-width="2.5"/></g><text x="92.3" y="142.0" font-size="38" font-weight="bold" font-style="italic" textLength="19.7" lengthAdjust="spacingAndGlyphs">0</text><text x="92.3" y="257.0" font-size="38" font-weight="bold" font-style="italic" textLength="19.7" lengthAdjust="spacingAndGlyphs">5</text><text x="72.7" y="372.0" font-size="38" font-weight="bold" font-style="italic" textLength="39.3" lengthAdjust="spacingAndGlyphs">10</text><text x="72.7" y="487.0" font-size="38" font-weight="bold" font-style="italic" textLength="39.3" lengthAdjust="spacingAndGlyphs">15</text><text x="72.7" y="602.0" font-size="38" font-weight="bold" font-style="italic" textLength="39.3" lengthAdjust="spacingAndGlyphs">20</text><text x="125.7" y="642.5" font-size="38" font-weight="bold" font-style="italic" textLength="19.7" lengthAdjust="spacingAndGlyphs">0</text><text x="349.8" y="642.5" font-size="38" font-weight="bold" font-style="italic" textLength="39.3" lengthAdjust="spacingAndGlyphs">20</text><text x="583.8" y="642.5" font-size="38" font-weight="bold" font-style="italic" textLength="39.3" lengthAdjust="spacingAndGlyphs">40</text><text x="817.3" y="642.5" font-size="38" font-weight="bold" font-style="italic" textLength="39.3" lengthAdjust="spacingAndGlyphs">60</text><text x="1051.8" y="642.5" font-size="38" font-weight="bold" font-style="italic" textLength="39.3" lengthAdjust="spacingAndGlyphs">80</text><g stroke="#000" stroke-width="2.8"><path d="M133 129.5h-10"/><path d="M133 244.5h-10"/><path d="M133 359.5h-10"/><path d="M133 474.5h-10"/><path d="M133 589.5h-10"/><path d="M134.5 589v11"/><path d="M368.5 589v11"/><path d="M602.5 589v11"/><path d="M836 589v11"/><path d="M1070.5 589v11"/><path d="M251.5 590v7" stroke-width="1.2" stroke="#aaa"/><path d="M485.5 590v7" stroke-width="1.2" stroke="#aaa"/><path d="M719 590v7" stroke-width="1.2" stroke="#aaa"/><path d="M953 590v7" stroke-width="1.2" stroke="#aaa"/><path d="M1187.5 590v7" stroke-width="1.2" stroke="#aaa"/></g><text x="-44.5" y="334.8" font-size="40"  textLength="181.0" lengthAdjust="spacingAndGlyphs" transform="rotate(-90 46 334.8)" stroke="#000" stroke-width="1.3">Depth (m)</text><text x="1304.7" y="578.4" font-size="21" font-weight="bold" font-style="italic" transform="rotate(-90 1304.7 578.4)">Ocean Data View</text></g><g font-family="Liberation Sans, Arial, sans-serif"><rect x="1325" y="129.5" width="39" height="459.8" fill="url(#odv)"/><path d="M1325 130L1338.5 123Q1344.5 121 1350.5 123L1364 130Z" fill="#fdcf96"/><path d="M1325 588.8L1338.5 595.8Q1344.5 597.8 1350.5 595.8L1364 588.8Z" fill="#f07af0"/><text x="1374.5" y="141.5" font-size="36" font-weight="bold" font-style="italic" textLength="63.1" lengthAdjust="spacingAndGlyphs">25.5</text><text x="1374.5" y="218.1" font-size="36" font-weight="bold" font-style="italic" textLength="81.1" lengthAdjust="spacingAndGlyphs">25.25</text><text x="1374.5" y="294.8" font-size="36" font-weight="bold" font-style="italic" textLength="36.0" lengthAdjust="spacingAndGlyphs">25</text><text x="1374.5" y="371.4" font-size="36" font-weight="bold" font-style="italic" textLength="81.1" lengthAdjust="spacingAndGlyphs">24.75</text><text x="1374.5" y="448.0" font-size="36" font-weight="bold" font-style="italic" textLength="63.1" lengthAdjust="spacingAndGlyphs">24.5</text><text x="1374.5" y="524.7" font-size="36" font-weight="bold" font-style="italic" textLength="81.1" lengthAdjust="spacingAndGlyphs">24.25</text><text x="1374.5" y="601.3" font-size="36" font-weight="bold" font-style="italic" textLength="36.0" lengthAdjust="spacingAndGlyphs">24</text><g stroke="#000" stroke-width="2.8" stroke-linecap="round"><path d="M1325.5 129.5h7M1363.5 129.5h-7"/><path d="M1325.5 206.133h7M1363.5 206.133h-7"/><path d="M1325.5 282.767h7M1363.5 282.767h-7"/><path d="M1325.5 359.4h7M1363.5 359.4h-7"/><path d="M1325.5 436.033h7M1363.5 436.033h-7"/><path d="M1325.5 512.667h7M1363.5 512.667h-7"/><path d="M1325.5 589.3h7M1363.5 589.3h-7"/></g></g><clipPath id="clipB"><rect x="141" y="701" width="1148.5" height="471.5"/></clipPath><g clip-path="url(#clipB)"><rect x="141" y="701" width="1148.5" height="471.5" fill="#d956f8"/>
<path fill="#cb49fb" d="M151 701l1139 0l0 471l-1149 0l0-138l5-29l11-92l5-28l7-36l16-52l3-20l-2-16l-6-16l-7-12z"/>
<path fill="#c03ffd" d="M180 701l1110 0l0 471l-1149 0l0-86l14-33l6-20l19-116l12-56l7-20l22-44l5-16l1-12l0-8l-1-8l-6-12l-11-12z"/>
<path fill="#b436ff" d="M212 701l1078 0l0 471l-1149 0l0-47l16-34l16-30l6-16l4-16l5-36l5-20l23-88l10-28l23-48l4-12l2-12l2-20l0-16l-1-8l-2-8l-5-7l-6-5z"/>
<path fill="#aa31ff" d="M245 701l1045 0l0 471l-1149 0l0-22l11-13l6-8l13-28l21-32l9-20l5-16l6-40l8-28l36-100l15-36l3-12l2-20l-1-36l0-28l-1-8l-1-4l-3-4l-5-4z"/>
<path fill="#9e2bff" d="M265 701l1025 0l0 471l-1149 0l0-8l20-19l8-9l17-31l21-32l9-16l6-20l8-40l6-24l9-24l28-69l16-43l2-12l1-12l-2-16l-5-36l-1-12l1-20l-1-8l-3-8l-3-4z"/>
<path fill="#9124ff" d="M286 701l1004 0l0 471l-1137 0l20-15l8-8l6-8l16-28l26-36l10-16l5-12l4-12l8-40l5-16l44-107l7-21l2-8l1-12l-2-20l-16-56l-1-8l0-24l-2-12l-4-8z"/>
<path fill="#8923ff" d="M294 701l996 0l0 471l-1121 0l12-8l8-8l21-35l31-39l15-25l10-24l8-32l3-12l40-103l10-29l1-8l1-12l-2-20l-5-20l-15-40l-2-8l-4-32l-4-12z"/>
<path fill="#8122ff" d="M300 701l990 0l0 471l-1107 0l12-11l20-32l10-13l24-27l14-20l9-16l9-20l10-36l22-60l24-76l3-12l0-12l0-12l-3-12l-5-16l-18-44l-9-40l-3-8z"/>
<path fill="#7921ff" d="M304 701l986 0l0 471l-1097 0l8-8l12-20l11-15l29-32l13-16l11-16l9-16l10-24l25-72l25-88l3-16l1-12l-1-12l-2-12l-7-20l-19-43l-12-37z"/>
<path fill="#7321ff" d="M308 701l982 0l0 471l-1089 0l24-34l34-37l17-20l11-16l10-16l12-28l19-56l25-93l4-19l1-12l-1-16l-2-12l-7-20l-20-44z"/>
<path fill="#7024ff" d="M311 701l979 0l0 471l-1083 0l14-20l8-10l35-37l24-28l11-16l9-16l12-28l17-47l11-41l12-52l4-24l1-16l0-12l-3-16l-9-22z"/>
<path fill="#6d27ff" d="M314 701l976 0l0 471l-1078 0l17-22l39-41l22-24l10-12l9-14l14-26l14-36l10-28l10-44l11-52l3-20l1-20l-2-16l-4-16l-9-20z"/>
<path fill="#6a2aff" d="M316 701l974 0l0 471l-1075 0l14-17l41-42l26-28l9-12l8-12l15-28l15-36l10-28l10-44l10-52l2-20l1-20l-2-20l-5-16l-12-24l-19-36z"/>
<path fill="#672dff" d="M320 701l970 0l0 471l-1068 0l7-9l24-23l34-35l22-24l8-12l16-28l17-36l11-32l12-48l8-52l2-20l1-24l-4-20l-3-12l-16-32l-20-34l-16-22z"/>
<path fill="#6430ff" d="M324 701l966 0l0 471l-1063 0l6-7l22-20l28-28l29-32l6-8l19-31l18-37l12-32l13-52l8-56l1-32l0-12l-5-24l-3-8l-15-28l-21-36z"/>
<path fill="#6234ff" d="M327 701l963 0l0 471l-1058 0l29-26l28-29l28-30l4-6l20-32l20-38l13-34l13-52l7-60l0-36l-6-32l-3-7l-16-29l-20-33z"/>
<path fill="#6038ff" d="M331 701l959 0l0 471l-1051 0l26-23l52-56l7-8l17-28l23-40l13-32l4-12l13-48l6-48l0-12l-1-36l-6-32l-4-9l-15-27l-21-34l-4-6z"/>
<path fill="#5e3cff" d="M336 701l954 0l0 471l-1043 0l25-23l21-22l28-32l8-10l17-28l23-40l12-28l7-20l12-44l5-32l1-24l-3-40l-7-36l-4-8l-14-24l-22-36z"/>
<path fill="#5c40ff" d="M341 701l949 0l0 471l-1036 0l27-25l40-46l12-16l21-32l20-36l14-32l14-44l6-24l4-28l0-20l-2-20l-10-56l-7-15l-20-33l-16-24z"/>
<path fill="#5a43ff" d="M346 701l944 0l0 471l-1028 0l31-32l36-43l24-36l16-26l14-26l12-28l15-44l6-28l3-24l0-16l-3-16l-7-32l-3-24l-3-8l-8-16l-28-44l-10-14z"/>
<path fill="#554cff" d="M349 701l941 0l0 471l-1023 0l26-27l36-44l24-35l20-33l15-28l12-28l14-40l7-32l3-20l0-16l-4-16l-7-28l-4-24l-3-12l-5-12l-13-20l-24-36z"/>
<path fill="#4b5aff" d="M361 701l929 0l0 471l-1005 0l24-28l32-43l32-48l24-40l14-28l18-44l8-24l7-32l1-12l-2-12l-4-12l-14-28l-3-24l-4-12l-10-16z"/>
<path fill="#3d68ff" d="M372 701l918 0l0 471l-988 0l15-20l61-91l24-36l16-28l26-48l7-16l4-12l13-52l1-12l-3-12l-6-12l-22-40l-10-16l-31-39z"/>
<path fill="#2e77ff" d="M383 701l907 0l0 471l-973 0l42-67l62-92l20-31l33-45l6-12l6-24l15-20l4-12l1-8l-2-12l-6-12l-11-16l-9-12l-11-12l-38-36l-20-21l-8-11z"/>
<path fill="#2286ff" d="M393 701l897 0l0 471l-959 0l19-35l22-36l47-68l30-40l17-20l7-6l16-10l15-12l12-12l9-11l4-8l4-13l4-20l0-12l-2-12l-4-12l-5-8l-41-44l-19-16l-29-22l-20-19l-9-11z"/>
<path fill="#1993fd" d="M404 701l886 0l0 471l-946 0l14-31l19-32l28-41l23-31l29-35l20-20l20-10l20-15l8-8l17-20l10-28l2-8l3-24l-8-24l-10-16l-46-43l-52-39l-22-22z"/>
<path fill="#119ffa" d="M414 701l876 0l0 471l-935 0l13-27l17-32l25-36l19-27l24-28l20-20l12-10l19-11l11-8l14-11l9-9l11-15l8-17l7-12l4-8l3-12l0-16l-4-16l-6-16l-11-16l-9-10l-36-30l-44-32l-15-12l-19-20z"/>
<path fill="#0cadf7" d="M425 701l865 0l0 471l-924 0l13-27l18-32l23-36l21-28l20-22l16-16l12-9l36-24l20-17l11-12l9-16l11-12l7-8l4-12l1-8l-1-8l-7-24l-9-24l-11-16l-7-8l-9-8l-38-28l-33-23l-16-13l-19-20zM717 977l-4 4l-2 8l6 48l3 12l5 8l4 5l4 1l4-1l1-1l3-6l1-6l-7-24l-3-12l0-24l-3-8l-6-4z"/>
<path fill="#08bbf4" d="M435 701l855 0l0 471l-913 0l19-39l22-36l23-33l24-28l12-12l12-10l49-33l35-28l8-4l20-6l10-6l8-8l3-4l2-8l0-4l-3-8l-24-38l-5-10l-11-24l-10-16l-10-10l-13-10l-63-42l-13-10l-9-8l-11-12zM701 952l-4 3l-3 6l-2 8l0 8l6 44l5 20l8 20l10 16l12 12l8 3l4 0l4-5l2-6l2-16l0-12l-13-72l-3-6l-4-5l-12-11l-12-7l-4-1z"/>
<path fill="#03caef" d="M446 701l844 0l0 471l-901 0l21-43l19-32l20-29l20-23l20-19l20-15l60-39l8-4l12-4l32-6l16-1l12 1l12 5l6 6l6 13l16 51l8 20l10 20l10 15l8 9l5 4l7 4l8 2l6-2l5-4l3-8l2-8l0-20l-1-16l-6-32l-7-32l-3-8l-3-7l-20-27l-16-17l-32-29l-16-11l-32-18l-14-11l-7-8l-15-28l-6-8l-8-8l-17-12l-65-40l-17-12l-8-8l-6-8z"/>
<path fill="#00d8e7" d="M457 701l833 0l0 471l-890 0l21-42l16-29l23-32l17-19l23-21l29-20l40-24l12-6l12-3l20-2l16 1l12 3l12 8l6 7l6 10l22 50l17 32l13 16l12 10l8 4l4 1l8 0l7-3l5-4l2-4l3-8l2-8l1-16l-2-24l-7-36l-10-36l-5-10l-24-39l-32-41l-8-10l-9-8l-36-24l-10-8l-21-24l-14-12l-13-8l-33-17l-44-25l-16-11l-8-7l-6-8z"/>
<path fill="#00e5de" d="M469 701l821 0l0 471l-879 0l18-36l20-35l20-28l11-12l21-20l32-24l28-16l20-9l12-4l8-2l8 0l16 3l10 4l14 10l5 6l11 18l20 38l15 28l13 16l20 14l8 4l4 0l12-4l8-5l4-6l3-7l3-16l1-8l-2-24l-7-40l-14-44l-24-45l-22-35l-19-32l-24-24l-27-32l-8-8l-12-6l-56-17l-16-7l-20-12l-21-10l-15-11l-6-5l-5-8z"/>
<path fill="#00e6c1" d="M481 701l809 0l0 471l-868 0l14-27l21-37l27-35l26-24l30-24l25-15l28-10l12-2l16 3l4 2l17 10l19 24l30 56l14 20l24 19l8 5l8 1l4-1l20-9l4-3l6-16l3-20l1-8l-3-28l-7-36l-15-44l-25-50l-19-34l-16-36l-14-20l-23-44l-11-16l-5-5l-5-3l-7-3l-8-2l-12 1l-16 4l-8 2l-20-1l-20-6l-42-23l-15-12l-3-4z"/>
<path fill="#01e29d" d="M496 701l794 0l0 471l-857 0l8-16l27-43l9-12l12-14l8-7l20-15l21-24l11-10l12-7l8-4l20-6l16-2l12 1l12 5l12 8l8 9l8 11l11 19l17 32l10 16l6 7l18 17l12 8l10 3l8-1l8-2l16-8l5-4l5-8l4-16l2-24l-2-28l-4-24l-7-24l-15-40l-38-76l-16-44l-11-24l-11-27l-8-16l-8-12l-11-13l-19-16l-14-20l-6-4l-6 0l-4 1l-2 3l-10 20l-8 8l-4 3l-8 2l-12 1l-16-4l-11-6l-12-8l-9-8l-11-12z"/>
<path fill="#03dc79" d="M510 701l780 0l0 471l-846 0l5-9l15-18l17-28l12-15l12-10l24-15l4-3l14-25l12-12l14-8l16-5l20-1l8 1l12 4l12 9l8 10l7 10l19 40l13 20l21 25l8 7l8 5l12 3l12 0l12-4l12-5l8-5l6-6l4-8l3-12l2-20l-1-16l-4-36l-2-12l-4-12l-20-52l-34-72l-6-16l-10-36l-17-48l-7-16l-10-17l-12-15l-20-18l-12-18l-8-6l-8-2l-8 1l-4 1l-8 7l-12 19l-4 5l-8 6l-12 2l-8-1l-8-3l-12-7l-6-6z"/>
<path fill="#05d559" d="M521 701l83 0l-8 8l-10 16l-5 6l-8 6l-8 1l-12-1l-7-4l-5-4zM644 701l646 0l0 471l-829 0l12-12l13-27l11-16l12-12l28-19l4-4l4-5l9-20l7-9l8-7l7-4l9-3l8-2l16-1l8 1l12 5l9 8l7 9l7 11l16 36l9 16l24 33l8 8l8 5l8 3l12 2l12 0l8-2l8-3l20-11l8-7l4-8l2-8l2-12l0-34l-4-30l-4-20l-8-25l-17-43l-31-64l-6-20l-10-41l-13-43l-6-16l-9-16l-12-19l-8-9l-16-15l-6-13z"/>
<path fill="#07cb41" d="M530 701l64 0l-5 7l-8 13l-4 5l-8 5l-8 1l-8-2l-7-5l-3-4zM666 701l624 0l0 471l-517 0l16-8l8-6l4-6l4-13l2-18l-1-32l-6-44l-11-37l-15-39l-32-68l-5-16l-8-40l-17-60l-19-36l-17-28l-6-16zM588 1041l17-2l12 1l10 5l8 8l11 16l6 12l9 25l24 43l8 13l4 4l8 6l-224 0l5-7l12-28l11-16l12-12l25-20l6-8l11-20l6-8l10-8z"/>
<path fill="#0ac32d" d="M538 701l49 0l-9 16l-4 4l-5 4l-8 1l-8-3l-4-3zM679 701l611 0l0 471l-486 0l4-7l2-8l3-32l-3-40l-8-44l-11-36l-14-39l-31-65l-12-60l-16-60l-31-60zM589 1049l12-4l12 1l6 3l5 4l7 8l10 16l12 32l20 48l9 15l-189 0l12-24l12-19l11-12l24-24l22-32l7-7z"/>
<path fill="#0fbf23" d="M545 701l35 0l-6 12l-3 4l-6 3l-4 1l-4-2l-4-2l-3-4zM686 701l604 0l0 471l-472 0l0-43l-3-40l-10-48l-12-40l-13-36l-30-64l-11-60l-15-60zM601 1053l8 1l6 3l10 12l5 8l7 16l26 79l-159 0l5-9l24-34l28-32l20-27l12-13zM593 1092l-4 5l-1 4l0 4l1 4l4 4l4 2l4 0l6-2l4-4l2-4l0-4l-1-4l-3-4l-4-3l-4-1l-4 1z"/>
<path fill="#14bb1b" d="M551 701l23 0l-3 8l-2 3l-4 3l-4 0l-4-2l-3-4zM694 701l596 0l0 471l-465 0l-3-47l-4-40l-10-44l-11-38l-14-42l-28-60l-11-60l-15-60zM558 1133l3-2l4-1l16 5l8 0l12-1l20-5l4 0l4 1l4 4l4 6l4 8l7 24l-127 0l24-23z"/>
<path fill="#18ba18" d="M558 701l9 0l-2 6l-4 2l-2-4zM703 701l587 0l0 471l-459 0l-4-43l-6-40l-10-48l-25-80l-26-60l-11-60l-15-60l-17-40zM606 1157l7-2l4-1l8 2l4 3l3 6l2 7l-44 0l7-9z"/>
<path fill="#1cb915" d="M712 701l578 0l0 471l-454 0l-5-43l-7-40l-10-48l-25-81l-25-63l-11-56l-15-60l-17-44z"/>
<path fill="#2cbb0d" d="M719 701l571 0l0 471l-449 0l-7-47l-7-40l-10-40l-26-88l-22-60l-12-56l-14-56l-19-56z"/>
<path fill="#44bf02" d="M726 701l564 0l0 471l-445 0l-7-47l-18-80l-26-92l-20-56l-24-100l-8-28l-12-36l-3-16z"/>
<path fill="#5ec500" d="M732 701l558 0l0 471l-440 0l-8-47l-19-80l-12-40l-15-56l-16-48l-26-104l-9-32l-11-32l-3-16z"/>
<path fill="#79cb00" d="M737 701l553 0l0 471l-436 0l-8-47l-20-80l-13-43l-14-57l-16-48l-24-100l-20-64l-3-16z"/>
<path fill="#93d100" d="M741 701l549 0l0 471l-432 0l-9-51l-21-80l-12-40l-13-56l-16-48l-24-100l-20-64l-3-16z"/>
<path fill="#abd700" d="M745 701l545 0l0 471l-428 0l-9-51l-21-80l-11-37l-14-59l-16-48l-24-100l-21-68l-2-12z"/>
<path fill="#c3da00" d="M748 701l542 0l0 471l-424 0l-10-55l-20-76l-11-39l-12-53l-16-48l-7-24l-20-88l-21-62l-2-10z"/>
<path fill="#d8dd00" d="M751 701l539 0l0 471l-419 0l-10-55l-42-164l-5-16l-13-36l-8-24l-14-68l-6-24l-21-60l-1-8z"/>
<path fill="#eae000" d="M754 701l536 0l0 471l-415 0l-10-55l-19-80l-24-88l-17-48l-9-28l-12-64l-5-20l-25-68l0-8z"/>
<path fill="#f8e100" d="M757 701l533 0l0 471l-411 0l-8-55l-12-52l-9-40l-13-44l-11-36l-18-44l-8-28l-7-32l-6-36l-6-24l-23-60l-1-4z"/>
<path fill="#ffe000" d="M760 701l530 0l0 471l-406 0l-9-59l-9-48l-10-40l-15-48l-13-36l-16-40l-9-28l-6-32l-6-40l-7-24l-24-60z"/>
<path fill="#ffdc00" d="M762 701l528 0l0 471l-400 0l-9-59l-10-48l-10-40l-15-48l-14-36l-15-40l-10-28l-5-28l-5-36l-3-12l-6-20l-25-60z"/>
<path fill="#ffd400" d="M764 701l526 0l0 471l-394 0l-9-59l-9-44l-5-19l-8-29l-12-36l-32-84l-9-28l-6-28l-6-40l-3-12l-8-24l-22-52z"/>
<path fill="#ffc100" d="M766 701l524 0l0 471l-388 0l-9-63l-13-52l-15-48l-11-32l-28-72l-11-36l-6-28l-5-40l-5-16l-14-36l-16-34z"/>
<path fill="#feaa00" d="M768 701l522 0l0 471l-381 0l-10-63l-12-48l-14-44l-45-120l-12-40l-3-20l-5-36l-4-16l-16-40l-16-32z"/>
<path fill="#fd9000" d="M771 701l519 0l0 471l-374 0l-11-63l-12-44l-14-44l-44-116l-8-28l-6-18l-4-22l-4-36l-3-12l-17-44l-20-36z"/>
<path fill="#fa7200" d="M773 701l517 0l0 471l-367 0l-11-55l-13-52l-14-40l-32-81l-14-39l-8-32l-6-16l-4-24l-5-44l-20-48l-19-31z"/>
<path fill="#f55300" d="M776 701l514 0l0 471l-360 0l-6-27l-21-84l-14-40l-33-80l-14-40l-5-28l-7-20l-4-24l-3-40l-21-48z"/>
<path fill="#f03803" d="M780 701l510 0l0 471l-353 0l-7-27l-13-44l-9-40l-16-44l-31-76l-13-40l-6-28l-6-20l-3-16l-3-44l-3-12l-12-28l-8-16z"/>
<path fill="#eb2306" d="M786 701l504 0l0 471l-346 0l-8-31l-15-38l-5-30l-4-16l-18-48l-29-72l-11-36l-6-32l-7-28l-2-16l-1-36l-4-16l-6-16l-9-16z"/>
<path fill="#e7180a" d="M794 701l496 0l0 471l-339 0l-10-35l-14-28l-3-8l-4-32l-4-16l-17-48l-26-64l-12-36l-12-64l-1-16l1-36l-2-16l-5-20l-3-8l-4-4l-26-23z"/>
<path fill="#e41410" d="M804 701l486 0l0 471l-330 0l-3-7l-5-20l-4-12l-19-32l-2-28l-4-16l-20-56l-22-57l-12-39l-10-60l-1-16l4-28l0-8l-4-32l-5-20l-4-6l-4-4l-28-18z"/>
<path fill="#e41417" d="M820 701l470 0l0 471l-317 0l-6-11l-6-20l-5-12l-5-8l-15-20l-2-8l0-20l-2-12l-15-38l-16-46l-20-61l-5-23l-5-40l0-20l4-28l1-12l-3-20l-6-20l-6-16l-8-13l-8-7z"/>
<path fill="#e3141c" d="M830 701l460 0l0 471l-310 0l-7-13l-6-18l-5-12l-8-12l-13-15l-3-5l0-20l-3-16l-19-48l-15-44l-15-52l-5-22l-5-38l0-20l5-32l0-8l-1-16l-5-20l-8-20l-11-20l-11-11z"/>
<path fill="#e41a26" d="M847 701l443 0l0 471l-298 0l-8-15l-11-24l-6-12l-6-8l-14-16l-1-4l-1-16l-3-12l-14-32l-11-29l-24-83l-4-19l-5-33l-1-12l0-12l6-44l0-16l-2-8l-4-16l-22-44l-5-8z"/>
<path fill="#e52231" d="M863 701l427 0l0 471l-284 0l-24-47l-49-92l-12-30l-8-30l-6-28l-8-32l-7-52l0-8l7-48l-2-28l-6-20l-18-28l-8-24z"/>
<path fill="#e6293a" d="M872 701l418 0l0 471l-274 0l-11-23l-20-37l-12-27l-8-12l-16-22l-11-18l-13-32l-7-28l-6-32l-5-24l-3-24l-2-32l6-52l-2-32l-4-16l-4-8l-18-24l-3-8z"/>
<path fill="#e73242" d="M882 701l408 0l0 471l-264 0l-14-31l-19-33l-13-31l-7-10l-16-18l-12-17l-16-36l-6-27l-8-52l-2-16l1-32l4-28l2-20l-1-24l-1-20l-3-12l-4-12l-5-8l-17-21l-3-7z"/>
<path fill="#e83947" d="M891 701l399 0l0 471l-256 0l-17-35l-20-35l-7-21l-5-10l-8-12l-16-17l-8-11l-16-31l-4-10l-5-21l-7-64l0-16l2-12l9-32l0-16l-4-52l-4-20l-6-16l-5-8l-15-16zM1105 708l-8 4l-4 3l-6 6l-4 8l-3 8l-1 12l0 12l2 12l5 20l11 31l5 13l7 12l6 8l6 5l8 3l8 0l8-3l8-7l6-10l4-12l1-12l0-16l-3-24l-3-20l-4-16l-4-12l-5-9l-6-7l-6-5l-8-3l-12-2z"/>
<path fill="#e8414d" d="M905 701l175 0l-7 8l-5 8l-4 8l-4 12l-2 12l-1 12l0 12l2 12l5 20l21 62l8 21l5 9l7 8l8 5l8 1l8-1l12-4l12-8l8-7l8-9l8-13l5-12l3-12l2-16l1-20l-2-28l-2-20l-8-40l-6-12l-6-8l126 0l0 471l-248 0l-17-39l-20-33l-9-27l-5-12l-6-10l-10-14l-5-8l-1-4l1-4l8-16l0-4l-1-4l-4-4l-8-4l-16 0l-4-1l-4-5l-4-9l-3-17l-3-32l-1-24l4-20l11-24l2-8l1-8l-1-16l-7-48l-8-52l-2-4l-3-4l-14-9z"/>
<path fill="#e94953" d="M929 701l130 0l-10 16l-8 20l-6 20l-2 16l1 8l2 12l17 44l5 20l2 20l-1 12l-2 8l-5 12l-7 10l-36 33l-8 6l-8 4l-16 5l-16 2l-8-3l-5-5l-4-12l-2-24l0-20l3-16l12-28l4-12l2-16l0-20l-3-24l-16-68l-3-7l-3-5zM1203 701l87 0l0 471l-237 0l-4-7l-15-36l-16-28l-4-8l-3-12l-4-24l-1-8l1-8l2-4l3-4l9-6l8-2l28-6l20-6l20-9l18-11l14-12l16-19l28-36l16-24l7-13l5-16l4-16l2-16l4-108l-2-16l-2-8z"/>
<path fill="#ea5058" d="M947 701l92 0l-18 33l-8 13l-4 5l-8 7l-8 5l-4 0l-4 0l-8-5l-8-9l-7-13l-8-24zM1246 701l44 0l0 471l-220 0l-6-7l-5-8l-11-32l-12-28l-2-12l0-8l2-4l5-8l4-2l12-4l16-1l32 4l12 0l14-1l14-3l12-4l11-5l8-8l5-7l6-17l7-44l4-16l2-8l16-36l8-28l3-28l1-48l1-16l4-20l12-36l3-12l1-12zM993 821l4-3l4-1l8 2l8 5l8 10l7 11l3 12l1 12l-1 8l-2 5l-4 7l-8 6l-8 3l-16 3l-16 8l-4 2l-4 0l-4-4l-3-10l0-8l2-12l5-17l8-20l8-14z"/>
<path fill="#eb5c5e" d="M965 701l50 0l-10 15l-8 9l-7 4l-5 1l-4-1l-6-4l-2-4zM1284 701l6 0l0 363l-24-43l-10-24l-7-24l-2-20l0-16l5-60l-1-24l-2-40l1-12l2-8l5-12l17-32l7-16l4-16l0-8zM996 869l5-3l4 1l1 2l1 4l-2 4l-4 2l-4-1l-2-1l0-4zM1098 1133l11 0l8 2l8 2l8 5l4 3l5 8l1 4l0 4l-2 4l-7 4l-9 1l-12-3l-13-6l-8-8l-3-8l0-4l2-4l2-2z"/><g stroke="#000" stroke-linecap="round" fill="none"><path d="M150.7 703V912" stroke-width="4.8"/><path d="M269.9 707.5V955.6" stroke-width="4.8"/><path d="M337.8 703V816.1" stroke-width="4.8"/><path d="M471.5 703V864" stroke-width="4.8"/><path d="M522.4 709.6V847.6" stroke-width="4.8"/><path d="M538.5 703V963.6" stroke-width="4.8"/><path d="M553.2 710V812.3" stroke-width="4.8"/><path d="M604.7 716.7V1149.5" stroke-width="3"/><path d="M609.2 703V986.95" stroke-width="5.1"/><path d="M643 703V948.6" stroke-width="4.8"/><path d="M718.8 703V833.5" stroke-width="8.6"/><path d="M723 703V1055.6" stroke-width="4.8"/><path d="M779.5 708V897.6" stroke-width="4.8"/><path d="M824.7 708V855" stroke-width="4.8"/><path d="M837.2 708V855" stroke-width="4.8"/><path d="M868.2 703V940.6" stroke-width="4.8"/><path d="M902.5 707V879.6" stroke-width="4.8"/><path d="M947.4 707V1007.6" stroke-width="4.8"/><path d="M1092.2 703V1037.3" stroke-width="4.8"/><path d="M1167.4 708V881.2" stroke-width="4.8"/><path d="M1204.8 703V1027.6" stroke-width="4.8"/><path d="M1267.5 708V802.6" stroke-width="4.8"/><path d="M1283.4 708V802.6" stroke-width="4.8"/><path d="M569.4 728V959" stroke-width="5.2" stroke-dasharray="0.1 7.86"/></g><g fill="none" stroke="#000" stroke-width="4.8" stroke-linecap="round" stroke-linejoin="round"><path d="M327.4 701.0C330.6 704.8 339.8 714.2 346.6 724.0C353.5 733.8 361.6 747.8 368.5 759.6C375.4 771.4 383.4 783.6 387.7 795.0C392.0 806.4 393.4 815.7 394.5 828.0C395.6 840.3 395.6 853.0 394.5 869.0C393.4 885.0 391.1 905.8 387.7 924.0C384.3 942.2 378.6 963.5 374.0 978.5C369.4 993.5 365.5 1002.1 360.0 1014.0C354.5 1025.9 347.8 1037.9 341.0 1049.7C334.2 1061.5 327.7 1073.6 319.0 1085.0C310.3 1096.4 294.0 1112.5 289.0 1118.0"/><path d="M404.0 701.0C406.3 704.8 411.4 716.1 417.8 724.0C424.2 731.9 433.8 741.2 442.5 748.6C451.2 756.0 461.5 762.2 470.0 768.4C478.5 774.6 485.1 778.9 493.4 786.0C501.7 793.1 512.3 803.8 520.0 811.0C527.7 818.2 534.6 823.0 539.7 829.0C544.8 835.0 547.5 840.0 550.4 846.7C553.3 853.4 556.4 860.7 557.0 869.0C557.6 877.3 556.6 886.4 554.0 896.6C551.4 906.8 547.1 920.5 541.6 930.0C536.1 939.5 528.5 946.6 521.0 953.8C513.5 961.0 503.6 968.5 496.4 973.0C489.2 977.5 484.7 976.0 478.0 981.0C471.3 986.0 464.2 993.8 456.0 1003.0C447.8 1012.2 437.0 1025.5 428.8 1036.0C420.6 1046.5 410.5 1061.0 406.8 1066.0"/><path d="M376.7 1110.0C373.5 1115.5 363.0 1132.5 357.5 1143.0C352.0 1153.5 346.1 1168.0 343.8 1173.0"/><path d="M506.0 739.0C509.8 740.9 522.2 746.9 529.0 750.6C535.8 754.3 540.9 758.2 546.9 761.0C552.9 763.8 557.3 765.8 564.7 767.5C572.1 769.2 582.5 770.9 591.4 771.0C600.3 771.1 611.2 768.8 618.0 768.4C624.8 768.0 628.1 767.5 632.3 768.4C636.5 769.3 639.4 770.4 643.0 773.7C646.6 777.0 649.5 781.2 653.7 788.0C657.9 794.8 663.2 806.4 668.0 814.7C672.8 823.0 677.6 831.3 682.2 837.8C686.8 844.3 690.5 844.9 695.6 853.8C700.7 862.7 706.8 879.3 712.9 891.0C719.0 902.7 724.8 910.5 732.0 924.0C739.2 937.5 749.9 957.2 756.4 972.0C762.9 986.8 767.0 999.3 770.8 1013.0C774.6 1026.7 777.3 1042.0 779.0 1054.0C780.7 1066.0 781.3 1075.7 781.0 1085.0C780.7 1094.3 778.7 1103.1 777.0 1109.6C775.3 1116.1 771.8 1121.6 770.8 1124.0"/><path d="M721.0 1122.3C718.7 1120.7 711.9 1117.5 707.4 1112.7C702.9 1107.9 698.7 1101.8 693.7 1093.6C688.7 1085.4 682.8 1073.5 677.3 1063.4C671.8 1053.4 666.3 1042.0 660.8 1033.3C655.3 1024.6 650.4 1017.1 644.4 1011.4C638.4 1005.7 631.6 1001.7 625.0 999.0C618.4 996.3 610.6 995.2 604.7 995.0C598.8 994.8 596.7 995.4 589.6 997.7C582.5 1000.0 571.1 1004.1 562.0 1008.6C552.9 1013.1 543.9 1018.6 534.8 1025.0C525.7 1031.4 516.5 1039.0 507.4 1047.0C498.3 1055.0 488.6 1063.4 480.0 1073.0C471.4 1082.6 463.7 1092.8 456.0 1104.5C448.3 1116.2 440.2 1131.6 434.0 1143.0C427.8 1154.4 421.5 1168.0 419.0 1173.0"/><path d="M548.5 1121.0C550.8 1118.7 555.1 1113.8 562.0 1107.0C568.9 1100.2 582.5 1088.2 589.6 1080.0C596.7 1071.8 600.1 1058.9 604.7 1058.0C609.3 1057.1 612.2 1066.2 617.0 1074.4C621.8 1082.6 628.4 1095.6 633.4 1107.0C638.4 1118.4 643.4 1132.0 647.0 1143.0C650.6 1154.0 653.9 1168.0 655.3 1173.0"/><path d="M711.6 748.8C714.0 753.8 722.1 768.0 726.0 779.0C729.9 790.0 732.1 804.3 734.8 814.7C737.5 825.1 739.9 832.2 742.0 841.4C744.1 850.6 745.6 860.2 747.3 870.0C749.0 879.8 749.1 889.9 752.3 900.0C755.5 910.1 761.9 920.5 766.7 930.8C771.5 941.1 776.2 949.6 781.0 961.6C785.8 973.6 791.0 989.0 795.5 1002.7C800.0 1016.4 804.4 1030.1 807.8 1043.8C811.2 1057.5 814.0 1071.3 816.0 1085.0C818.0 1098.7 819.0 1111.5 820.0 1126.0C821.0 1140.5 821.7 1164.3 822.0 1172.0"/><path d="M738.4 701.0C738.1 703.6 736.3 711.1 736.6 716.7C736.9 722.3 737.9 727.1 740.0 734.5C742.1 741.9 745.7 750.6 749.0 761.0C752.3 771.4 756.4 784.8 759.7 797.0C763.0 809.2 767.1 827.8 768.6 834.0"/><path d="M803.7 960.6C805.4 967.6 810.2 988.8 814.0 1002.7C817.8 1016.6 822.5 1030.1 826.3 1043.8C830.1 1057.5 833.2 1071.3 836.6 1085.0C840.0 1098.7 843.7 1111.5 846.8 1126.0C849.9 1140.5 853.6 1164.3 855.0 1172.0"/><path d="M759.7 701.0C759.7 703.6 758.5 711.1 759.7 716.7C760.9 722.3 763.9 727.1 766.9 734.5C769.9 741.9 774.5 753.6 777.5 761.0C780.5 768.4 782.3 771.5 784.7 779.0C787.1 786.5 789.8 795.4 791.8 805.8C793.8 816.2 795.2 830.7 797.0 841.4C798.8 852.1 800.0 860.2 802.5 870.0C805.0 879.8 807.7 888.2 812.0 900.0C816.3 911.8 823.3 927.3 828.4 941.0C833.5 954.7 838.3 968.3 842.7 982.0C847.1 995.7 851.2 1009.3 855.0 1023.0C858.8 1036.7 862.2 1050.2 865.3 1064.0C868.4 1077.8 871.8 1097.0 873.5 1105.5C875.2 1114.0 875.2 1113.2 875.6 1114.7"/><path d="M821.0 789.7C821.6 796.8 823.4 821.3 824.7 832.5C826.0 843.7 827.4 850.8 829.0 857.0C830.6 863.2 832.5 862.8 834.5 870.0C836.5 877.2 837.3 888.2 840.7 900.0C844.1 911.8 849.9 927.3 855.0 941.0C860.1 954.7 866.0 968.3 871.5 982.0C877.0 995.7 882.9 1009.3 888.0 1023.0C893.1 1036.7 898.2 1050.2 902.3 1064.0C906.4 1077.8 909.2 1091.7 912.6 1105.5C916.0 1119.3 920.3 1135.5 922.9 1146.6C925.5 1157.7 927.1 1167.8 928.0 1172.0"/><path d="M864.0 703.0C865.6 707.7 869.1 721.9 873.7 731.0C878.3 740.1 887.5 749.7 891.5 757.7C895.5 765.7 896.6 771.0 897.8 779.0C899.0 787.0 899.1 796.9 898.6 805.8C898.1 814.7 896.1 823.8 895.0 832.5C893.9 841.2 892.5 853.8 892.0 858.0"/><path d="M906.4 942.0C907.4 947.0 910.2 961.9 912.6 972.0C915.0 982.1 917.4 992.5 920.8 1002.7C924.2 1013.0 928.2 1023.2 933.0 1033.5C937.8 1043.8 944.1 1054.2 949.6 1064.4C955.1 1074.7 960.5 1084.7 966.0 1095.0C971.5 1105.3 977.6 1116.7 982.4 1126.0C987.2 1135.3 991.0 1143.2 994.8 1150.7C998.6 1158.2 1003.3 1167.6 1005.0 1171.0"/><path d="M531.0 701.0C530.5 702.8 529.2 708.5 528.0 712.0C526.8 715.5 524.7 720.3 524.0 722.0"/></g></g><g font-family="Liberation Sans, Arial, sans-serif" fill="#000" clip-path="url(#clipB)"><g transform="translate(261.6 1148) rotate(-52)"><text x="-24.6" y="13.5" font-size="38" font-weight="bold" font-style="italic" textLength="49.1" lengthAdjust="spacingAndGlyphs">2.5</text></g><g transform="translate(393 1085) rotate(-55)"><text x="-9.8" y="13.5" font-size="38" font-weight="bold" font-style="italic" textLength="19.7" lengthAdjust="spacingAndGlyphs">5</text></g><g transform="translate(483 722) rotate(60)"><text x="-24.6" y="13.5" font-size="38" font-weight="bold" font-style="italic" textLength="49.1" lengthAdjust="spacingAndGlyphs">7.5</text></g><g transform="translate(548 712) rotate(-10)"><text x="-19.7" y="13.5" font-size="38" font-weight="bold" font-style="italic" textLength="39.3" lengthAdjust="spacingAndGlyphs">10</text></g><g transform="translate(703 729) rotate(55)"><text x="-19.7" y="13.5" font-size="38" font-weight="bold" font-style="italic" textLength="39.3" lengthAdjust="spacingAndGlyphs">10</text></g><g transform="translate(783 905) rotate(62)"><text x="-34.4" y="13.5" font-size="38" font-weight="bold" font-style="italic" textLength="68.8" lengthAdjust="spacingAndGlyphs">12.5</text></g><g transform="translate(798 733) rotate(54)"><text x="-34.4" y="13.5" font-size="38" font-weight="bold" font-style="italic" textLength="68.8" lengthAdjust="spacingAndGlyphs">17.5</text></g><g transform="translate(896 901) rotate(75)"><text x="-19.7" y="13.5" font-size="38" font-weight="bold" font-style="italic" textLength="39.3" lengthAdjust="spacingAndGlyphs">20</text></g><g transform="translate(528 1153) rotate(-50)"><text x="-19.7" y="13.5" font-size="38" font-weight="bold" font-style="italic" textLength="39.3" lengthAdjust="spacingAndGlyphs">10</text></g><g transform="translate(744 1142) rotate(0)"><text x="-24.6" y="13.5" font-size="38" font-weight="bold" font-style="italic" textLength="49.1" lengthAdjust="spacingAndGlyphs">7.5</text></g><g transform="translate(888 1152.7) rotate(78)"><text x="-19.7" y="13.5" font-size="38" font-weight="bold" font-style="italic" textLength="39.3" lengthAdjust="spacingAndGlyphs">15</text></g></g><g font-family="Liberation Sans, Arial, sans-serif"><g fill="none" stroke="#0a0018"><path d="M139.8 700.7H1290.7" stroke-width="2.8"/><path d="M139.8 1173H1290.7" stroke-width="3.2"/><path d="M140.6 699.5V1174.5" stroke-width="1.9"/><path d="M1289.7 699.5V1174.5" stroke-width="2.5"/></g><text x="99.3" y="713.0" font-size="38" font-weight="bold" font-style="italic" textLength="19.7" lengthAdjust="spacingAndGlyphs">0</text><text x="99.3" y="831.2" font-size="38" font-weight="bold" font-style="italic" textLength="19.7" lengthAdjust="spacingAndGlyphs">5</text><text x="79.7" y="949.3" font-size="38" font-weight="bold" font-style="italic" textLength="39.3" lengthAdjust="spacingAndGlyphs">10</text><text x="79.7" y="1067.5" font-size="38" font-weight="bold" font-style="italic" textLength="39.3" lengthAdjust="spacingAndGlyphs">15</text><text x="79.7" y="1185.5" font-size="38" font-weight="bold" font-style="italic" textLength="39.3" lengthAdjust="spacingAndGlyphs">20</text><text x="132.2" y="1226.0" font-size="38" font-weight="bold" font-style="italic" textLength="19.7" lengthAdjust="spacingAndGlyphs">0</text><text x="356.6" y="1226.0" font-size="38" font-weight="bold" font-style="italic" textLength="39.3" lengthAdjust="spacingAndGlyphs">20</text><text x="590.9" y="1226.0" font-size="38" font-weight="bold" font-style="italic" textLength="39.3" lengthAdjust="spacingAndGlyphs">40</text><text x="826.3" y="1226.0" font-size="38" font-weight="bold" font-style="italic" textLength="39.3" lengthAdjust="spacingAndGlyphs">60</text><text x="1060.8" y="1226.0" font-size="38" font-weight="bold" font-style="italic" textLength="39.3" lengthAdjust="spacingAndGlyphs">80</text><g stroke="#000" stroke-width="2.8"><path d="M140 700.5h-10"/><path d="M140 818.7h-10"/><path d="M140 936.8h-10"/><path d="M140 1055h-10"/><path d="M140 1173h-10"/><path d="M141 1172.5v11"/><path d="M375.3 1172.5v11"/><path d="M609.6 1172.5v11"/><path d="M845 1172.5v11"/><path d="M1079.5 1172.5v11"/><path d="M257.5 1173.5v7" stroke-width="1.2" stroke="#aaa"/><path d="M492.3 1173.5v7" stroke-width="1.2" stroke="#aaa"/><path d="M728 1173.5v7" stroke-width="1.2" stroke="#aaa"/><path d="M963 1173.5v7" stroke-width="1.2" stroke="#aaa"/><path d="M1198 1173.5v7" stroke-width="1.2" stroke="#aaa"/></g><text x="-48.2" y="893.4" font-size="40"  textLength="181.0" lengthAdjust="spacingAndGlyphs" transform="rotate(-90 42.3 893.4)" stroke="#000" stroke-width="1.3">Depth (m)</text><text x="1316.8" y="1167.0" font-size="22.5" font-weight="bold" font-style="italic" textLength="178.5" lengthAdjust="spacingAndGlyphs" transform="rotate(-90 1316.8 1167)">Ocean Data View</text></g><g font-family="Liberation Sans, Arial, sans-serif"><rect x="1335.5" y="700.3" width="40" height="472" fill="url(#odv)"/><path d="M1335.5 700.8L1349.5 693.8Q1355.5 691.8 1361.5 693.8L1375.5 700.8Z" fill="#fdcf96"/><path d="M1335.5 1171.8L1349.5 1178.8Q1355.5 1180.8 1361.5 1178.8L1375.5 1171.8Z" fill="#f07af0"/><text x="1386.0" y="764.7" font-size="36" font-weight="bold" font-style="italic" textLength="36.0" lengthAdjust="spacingAndGlyphs">20</text><text x="1386.0" y="869.6" font-size="36" font-weight="bold" font-style="italic" textLength="36.0" lengthAdjust="spacingAndGlyphs">15</text><text x="1386.0" y="974.5" font-size="36" font-weight="bold" font-style="italic" textLength="36.0" lengthAdjust="spacingAndGlyphs">10</text><text x="1386.0" y="1079.4" font-size="36" font-weight="bold" font-style="italic" textLength="18.0" lengthAdjust="spacingAndGlyphs">5</text><text x="1386.0" y="1184.3" font-size="36" font-weight="bold" font-style="italic" textLength="18.0" lengthAdjust="spacingAndGlyphs">0</text><g stroke="#000" stroke-width="2.8" stroke-linecap="round"><path d="M1336 752.744h7M1375 752.744h-7"/><path d="M1336 857.633h7M1375 857.633h-7"/><path d="M1336 962.522h7M1375 962.522h-7"/><path d="M1336 1067.41h7M1375 1067.41h-7"/><path d="M1336 1172.3h7M1375 1172.3h-7"/></g></g><clipPath id="clipC"><rect x="121.5" y="1320.3" width="1175.5" height="453.7"/></clipPath><g clip-path="url(#clipC)"><rect x="121.5" y="1320.3" width="1175.5" height="453.7" fill="#6e26ff"/>
<path fill="#672dff" d="M122 1320l1175 0l0 454l-1175 0zM1138 1579l-8 4l-6 5l-4 8l-2 8l0 12l2 8l6 10l5 6l19 15l20 12l44 20l28 15l4 1l4 0l3-3l0-4l-3-9l-14-19l-27-44l-16-20l-13-12l-14-9l-8-3l-8-2z"/>
<path fill="#6235ff" d="M122 1320l1175 0l0 358l-26-30l-59-56l-26-22l-28-11l-8-2l-12 0l-9 3l-7 5l-4 6l-10 21l-4 28l1 4l1 4l11 20l25 26l68 57l24 15l28 16l8 6l6 6l-1154 0z"/>
<path fill="#5d3dff" d="M122 1320l1175 0l0 307l-59-41l-40-32l-44-25l-12-3l-8 1l-8 4l-4 3l-8 9l-4 7l-4 9l-9 33l-2 28l1 8l2 6l10 22l22 30l20 24l23 26l30 38l-1081 0z"/>
<path fill="#5847ff" d="M122 1320l1175 0l0 265l-39-16l-10-5l-34-28l-29-20l-27-21l-8-4l-8-3l-8 1l-8 5l-4 4l-8 12l-8 15l-6 11l-4 12l-2 13l-5 27l-2 36l3 13l5 15l25 48l14 37l9 19l5 18l-1026 0z"/>
<path fill="#5053ff" d="M122 1320l1175 0l0 207l-7-5l-8-3l-29-3l-11-2l-20-7l-16-8l-15-11l-8-8l-18-24l-7-7l-8-5l-8-2l-8 1l-8 4l-8 9l-6 8l-5 12l-18 60l-5 28l-3 48l1 20l4 19l4 13l13 28l4 16l1 16l-2 36l3 14l-987 0z"/>
<path fill="#475fff" d="M122 1320l1175 0l0 168l-15-5l-40-8l-12-3l-8-4l-6-4l-6-6l-19-26l-10-12l-11-9l-12-6l-12-3l-12 2l-8 4l-4 4l-8 10l-12 23l-8 26l-5 29l-6 24l-3 16l-4 48l-1 32l2 24l5 20l10 28l2 12l0 12l-2 36l0 12l2 10l-972 0z"/>
<path fill="#396bff" d="M122 1320l1175 0l0 147l-31-13l-12-6l-8-6l-15-14l-18-24l-10-12l-9-8l-8-5l-20-8l-32-8l-8 0l-4 1l-5 4l-3 5l-4 10l-16 48l-8 28l-4 21l-10 72l-2 52l-1 24l5 36l10 36l0 8l-3 40l1 14l1 12l-961 0z"/>
<path fill="#2d78ff" d="M122 1320l950 0l1 8l2 8l3 6l8 14l3 8l2 8l1 12l-2 20l-12 54l-4 22l-6 52l-2 32l-2 64l3 36l6 36l-1 44l2 30l-952 0zM1145 1320l152 0l0 128l-21-12l-14-12l-10-12l-26-39l-8-9l-8-8l-8-5l-8-4l-32-11l-8-4l-5-4z"/>
<path fill="#2385ff" d="M122 1320l941 0l3 15l2 9l11 24l3 28l-1 12l-14 72l-6 80l-1 68l4 72l2 74l-944 0zM1203 1320l94 0l0 109l-11-9l-11-12l-25-41l-16-21l-12-12z"/>
<path fill="#1b90fd" d="M122 1320l935 0l5 24l9 24l3 32l-12 80l-5 80l-2 68l4 146l-937 0zM1235 1320l62 0l0 88l-6-8l-22-36l-19-27l-7-9z"/>
<path fill="#149afb" d="M122 1320l931 0l5 28l7 24l3 28l-4 32l-7 48l-4 80l-2 68l1 76l1 70l-931 0zM1255 1320l42 0l0 58l-28-38z"/>
<path fill="#0fa5f9" d="M122 1320l927 0l4 28l7 24l2 28l-2 28l-7 52l-4 80l-2 64l0 68l1 82l-926 0zM1270 1320l27 0l0 34l-16-18z"/>
<path fill="#0bb1f6" d="M122 1320l923 0l4 24l6 32l2 24l-1 28l-7 56l-3 74l-4 134l1 82l-921 0zM1286 1320l11 0l0 13z"/>
<path fill="#08bdf4" d="M122 1320l920 0l3 24l6 36l2 24l-2 24l-5 56l-3 40l-5 164l0 86l-916 0z"/>
<path fill="#03c9ef" d="M122 1320l917 0l8 60l1 24l-8 116l-6 168l-1 86l-411 0l0-10l-2-8l-6-20l-4-7l-4-5l-4-2l-4-1l-4 0l-8 4l-5 3l-6 8l-3 8l-2 9l-2 21l-446 0z"/>
<path fill="#00d5e8" d="M122 1320l914 0l7 64l1 20l-7 108l-7 172l-2 90l-394 0l-4-23l-8-28l-4-10l-4-6l-4-4l-4-2l-8-2l-12 1l-8 4l-8 7l-7 9l-4 8l-3 12l-3 34l-431 0z"/>
<path fill="#00e0e1" d="M122 1320l911 0l7 68l0 16l-14 284l-2 86l-382 0l-4-22l-9-32l-3-11l-4-9l-4-7l-8-9l-8-6l-8-2l-8 1l-12 6l-15 13l-12 16l-5 12l-2 8l1 28l-2 14l-417 0z"/>
<path fill="#00e7d2" d="M122 1320l908 0l6 72l0 28l-9 200l-5 68l-3 86l-371 0l-6-30l-8-28l-12-32l-12-22l-4-4l-8-4l-4-1l-20 9l-4 3l-27 27l-24 32l-4 8l-1 8l2 4l7 12l2 8l-1 4l-2 4l-3 2l-16 0l-9-7l-4 0l-5 1l-8 6l-355 0z"/>
<path fill="#00e5b4" d="M122 1320l904 0l6 72l0 32l-8 196l-6 68l-4 86l-361 0l-5-26l-4-16l-5-16l-6-16l-4-16l-8-24l-7-12l-7-8l-5-4l-8-1l-8 3l-24 18l-66 64l-14 15l-12 16l-8 13l-5 10l-335 0z"/>
<path fill="#01e195" d="M122 1320l901 0l5 76l-1 76l-3 92l-3 56l-7 68l-5 86l-352 0l-7-42l-5-16l-8-16l-5-28l-6-20l-8-14l-8-9l-8-6l-8-1l-4 1l-8 4l-18 13l-78 71l-12 14l-12 16l-9 15l-7 18l-324 0z"/>
<path fill="#03dc77" d="M122 1320l642 0l6 4l4-1l2-3l244 0l4 80l-1 76l-2 84l-4 68l-7 60l-6 86l-343 0l-6-42l-5-16l-9-16l-2-28l-6-20l-8-16l-11-15l-8-7l-4-3l-4-1l-4 0l-8 3l-16 11l-72 60l-18 16l-14 18l-12 17l-11 21l-6 18l-315 0z"/>
<path fill="#04d65b" d="M122 1320l631 0l7 8l6 3l4 1l4 0l7-4l6-8l229 0l4 88l0 92l-2 68l-4 60l-8 60l-7 86l-334 0l-5-46l-4-12l-9-20l-2-24l-5-20l-10-20l-11-16l-13-12l-8-4l-4 0l-4 2l-12 7l-77 59l-23 21l-16 18l-15 21l-12 24l-7 22l-306 0z"/>
<path fill="#06cd47" d="M122 1320l623 0l6 8l4 4l7 4l7 1l8-1l9-3l4-5l5-8l218 0l3 96l1 88l-2 64l-4 60l-11 68l-3 28l-4 50l-323 0l-2-14l-2-32l-3-12l-8-20l-4-28l-5-16l-9-20l-15-22l-12-12l-8-4l-4-1l-8 1l-12 7l-77 55l-15 13l-13 11l-15 18l-16 24l-13 26l-9 26l-298 0z"/>
<path fill="#08c532" d="M122 1320l616 0l8 12l8 6l8 3l12 1l8-1l8-5l7-8l4-8l208 0l3 76l2 104l-2 72l-4 60l-8 40l-6 40l-6 62l-314 0l-2-14l1-24l-1-12l-9-32l-5-24l-5-16l-12-24l-15-23l-8-8l-8-6l-8-4l-4-1l-4 1l-8 2l-12 7l-60 40l-33 24l-11 10l-19 22l-17 28l-14 28l-8 26l-290 0z"/>
<path fill="#0cc128" d="M122 1320l408 0l4 4l7 4l13 3l12-3l7-4l4-4l153 0l4 8l3 4l9 8l4 3l8 2l16 1l11-1l9-4l8-8l6-13l197 0l5 184l-1 68l-4 60l-9 40l-8 44l-6 58l-304 0l-1-6l-1-8l4-24l0-12l-4-16l-17-56l-13-27l-16-25l-12-11l-8-6l-8-4l-4 0l-8 1l-8 4l-36 23l-24 14l-29 19l-27 21l-22 27l-16 28l-15 32l-9 26l-282 0z"/>
<path fill="#10bd20" d="M122 1320l390 0l2 8l3 4l13 11l16 5l8 1l24-2l4-2l12-9l2-4l4-12l122 0l4 12l20 18l4 1l28 1l8-1l4-1l9-6l7-8l5-8l3-8l187 0l6 188l-1 64l-5 60l-9 40l-9 44l-7 58l-292 0l-2-6l-1-8l3-8l7-12l0-8l-8-28l-19-52l-12-28l-18-28l-20-20l-16-11l-4 1l-24 17l-24 15l-32 17l-28 20l-28 21l-21 28l-17 32l-15 32l-9 26l-274 0zM702 1746l-3 2l1 4l4 4l1 4l-1 8l2 3l4 3l4 0l4-6l0-4l-1-8l-3-6l-4-3l-4-2z"/>
<path fill="#14bb1b" d="M122 1320l379 0l4 12l5 7l8 10l8 7l8 4l12 5l8 2l12 1l8 0l8-2l8-4l6-6l6-6l5-10l6-20l97 0l5 12l7 10l16 15l4 2l8 1l16-2l20-1l12-4l8-7l4-6l8-12l2-8l177 0l2 80l5 108l-1 64l-5 60l-10 40l-10 44l-8 58l-245 0l0-14l-3-12l-6-8l-13-12l-6-8l-40-96l-15-28l-4-6l-28-34l-5-4l-7-2l-8 1l-4 3l-18 18l-11 8l-19 12l-24 12l-8 4l-24 18l-28 23l-23 31l-17 32l-15 32l-11 30l-266 0zM690 1756l4-1l4 2l4 3l-4 11l-4 2l-4-2l-4-7l1-4z"/>
<path fill="#18ba18" d="M122 1320l370 0l7 16l6 13l9 10l8 9l12 9l12 7l12 4l12 2l12-3l8-3l8-6l8-9l9-17l11-32l68 0l16 26l12 15l8 6l4 2l4 2l8 1l40-7l8-3l8-5l8-6l8-11l4-8l4-12l167 0l2 76l6 112l-1 64l-5 60l-21 80l-11 62l-231 0l-1-18l-5-12l-4-7l-16-19l-8-13l-14-29l-23-56l-15-31l-23-37l-5-7l-7-5l-5-2l-12-2l-12 3l-8 5l-23 24l-12 8l-29 17l-16 11l-24 19l-20 19l-8 10l-14 20l-18 35l-17 33l-13 34l-258 0z"/>
<path fill="#1cb916" d="M122 1320l362 0l18 39l8 12l12 15l16 15l12 9l12 5l12 2l12-2l8-4l12-9l8-10l7-12l4-12l9-36l4-7l5-5l26 0l5 3l6 5l6 8l16 28l12 16l5 4l7 4l12 2l8-1l12-4l32-13l12-6l10-10l10-11l7-13l4-12l156 0l1 76l8 112l-1 64l-3 43l-3 17l-22 80l-13 62l-217 0l-2-18l-4-12l-7-12l-20-26l-15-26l-9-22l-19-46l-19-44l-9-24l-4-8l-5-7l-8-5l-12-3l-12-1l-12 1l-8 2l-8 3l-8 5l-8 7l-16 18l-8 8l-48 38l-16 15l-12 12l-15 19l-19 32l-26 52l-18 42l-250 0z"/>
<path fill="#25b911" d="M122 1320l352 0l8 13l12 30l8 17l48 71l8 9l8 6l8 1l32-8l12-1l8 0l4 2l5 4l4 8l1 4l-1 4l-3 4l-15 8l-9 4l-10 3l-12-3l-16-7l-8 0l-4 1l-8 5l-20 18l-8 11l-11 20l-8 12l-10 12l-39 39l-12 14l-12 16l-16 27l-24 44l-13 28l-16 38l-243 0zM839 1320l145 0l1 76l9 116l1 44l-1 16l-4 40l-3 20l-5 20l-17 56l-17 66l-202 0l-6-26l-5-12l-29-40l-8-15l-9-17l-10-24l-21-60l-5-16l-2-12l-1-12l0-24l-2-24l1-4l1-4l6-4l6-2l28-6l7-4l5-3l20-21l47-44l37-29l11-11l9-10l6-10zM661 1368l4 5l4 11l1 8l0 7l-2 5l-3 4l-3 3l-4-1l-2-2l-2-3l-1-5l5-25z"/>
<path fill="#39bd07" d="M122 1320l339 0l13 16l15 44l23 44l8 20l5 20l0 12l-1 8l-5 12l-19 40l-7 12l-12 16l-23 26l-12 16l-24 37l-39 73l-26 58l-235 0zM845 1320l134 0l1 68l10 120l2 48l-1 12l-4 44l-6 28l-19 60l-22 74l-185 0l-5-10l-3-16l-5-12l-8-12l-16-22l-12-17l-14-25l-10-28l-12-40l-5-20l-2-16l1-16l3-12l7-13l5-7l7-5l42-23l17-12l9-8l8-12l17-32l7-12l10-12l26-27l12-17l6-12z"/>
<path fill="#4dc100" d="M122 1320l321 0l19 18l4 6l10 36l22 52l6 20l3 12l0 8l0 8l-3 12l-8 20l-14 26l-13 18l-23 32l-16 26l-52 98l-29 62l-227 0zM852 1320l122 0l0 40l1 32l7 56l4 56l2 52l-4 48l-2 16l-8 32l-14 40l-28 82l-165 0l-6-10l-8-20l-6-12l-42-57l-6-11l-7-16l-4-12l-6-24l-6-28l-2-20l1-16l3-9l4-8l4-7l8-8l8-4l12-6l40-15l8-4l6-7l10-17l13-39l7-16l13-20l31-40l4-8z"/>
<path fill="#64c600" d="M122 1320l303 0l9 16l13 16l7 12l15 36l19 52l3 20l0 12l-1 8l-3 8l-6 12l-25 40l-16 24l-6 11l-18 37l-45 88l-30 62l-219 0zM857 1324l1-4l110 0l0 36l2 32l7 60l6 60l2 48l-6 56l-9 40l-14 36l-12 36l-20 50l-142 0l-12-17l-23-37l-37-48l-5-8l-7-16l-4-12l-7-32l-2-32l1-16l3-12l4-8l5-5l8-6l16-7l28-7l20-6l8-4l4-5l4-8l9-40l9-28l4-12l15-24l27-33l2-7z"/>
<path fill="#7bcb00" d="M122 1320l291 0l9 28l12 24l17 28l22 60l3 16l1 8l-2 8l-1 5l-17 27l-18 32l-10 16l-19 48l-21 44l-23 44l-33 66l-211 0zM865 1320l97 0l0 36l17 152l2 48l-5 52l-10 44l-15 36l-13 36l-22 50l-120 0l-14-20l-68-86l-4-7l-8-18l-2-7l-4-32l1-36l6-20l3-5l4-3l12-6l32-7l28-12l4-3l10-20l8-40l12-40l12-24l16-20l14-13l2-7z"/>
<path fill="#91d000" d="M122 1320l281 0l20 68l19 35l11 29l4 16l1 8l0 8l-4 12l-34 72l-16 48l-13 28l-11 24l-55 106l-203 0zM873 1320l81 0l2 36l12 92l7 64l2 48l-5 44l-9 40l-3 8l-13 32l-14 36l-26 54l-101 0l-18-26l-26-32l-45-56l-7-16l-2-8l-1-20l1-12l2-9l6-19l4-8l6-7l7-5l17-8l11-7l25-18l4-4l4-6l9-21l9-40l12-40l7-16l6-8l9-12l16-15l3-5z"/>
<path fill="#a5d500" d="M122 1320l273 0l5 16l7 28l4 32l4 8l12 24l9 24l3 16l-1 16l-4 16l-20 57l-14 47l-9 24l-16 36l-58 110l-195 0zM881 1324l2-4l59 0l2 4l4 28l9 44l13 112l3 52l-5 40l-9 40l-4 12l-29 68l-20 41l-9 13l-81 0l-22-33l-32-38l-33-43l-5-8l-3-8l-2-8l1-8l3-12l5-8l6-4l15-8l5-4l9-24l4-8l8-12l19-23l4-7l11-26l17-64l5-16l7-12l7-12l9-9l12-12l5-7l3-8l4-20z"/>
<path fill="#bad900" d="M122 1320l265 0l7 20l5 20l2 12l1 28l12 28l6 20l3 20l-2 20l-15 60l-11 48l-9 28l-20 44l-57 106l-187 0zM892 1324l4-4l29 1l5 5l2 6l18 54l2 14l4 36l10 72l2 48l-3 32l-3 21l-12 41l-29 66l-17 32l-10 16l-9 10l-58 0l-8-10l-21-32l-30-36l-17-24l-7-12l-4-8l-2-8l0-4l3-8l3-4l19-16l3-4l5-8l12-40l19-37l13-35l7-20l11-40l5-16l5-8l7-10l21-22l6-8l5-12l6-20z"/>
<path fill="#cedc00" d="M122 1320l257 0l5 12l6 16l3 16l1 12l1 24l11 32l2 12l1 16l-2 24l-9 51l-8 49l-4 16l-5 16l-15 36l-28 56l-37 66l-179 0zM901 1336l5-2l4 0l4 2l4 4l12 19l8 14l5 11l4 12l4 48l9 60l3 52l-1 16l-5 32l-11 38l-24 56l-20 40l-12 18l-13 11l-11 6l-8 1l-8 0l-8-3l-7-3l-5-4l-4-6l-20-31l-24-31l-11-16l-6-12l-3-8l-2-12l4-12l14-21l6-15l16-56l11-32l16-40l12-44l5-12l6-10l7-10l21-20l7-8l7-12l6-14z"/>
<path fill="#dede00" d="M122 1320l250 0l7 16l4 12l4 16l2 12l1 24l7 28l2 20l-2 24l-9 56l-6 60l-9 32l-16 36l-27 53l-38 65l-170 0zM904 1368l6-2l4 0l8 5l12 13l4 6l4 10l3 44l10 56l2 56l-1 20l-6 28l-12 38l-20 48l-20 39l-10 15l-10 10l-12 6l-12 2l-7-2l-5-2l-8-7l-40-59l-7-12l-5-12l-3-12l0-8l4-12l11-26l7-22l3-16l5-36l5-20l21-48l15-48l6-12l7-8z"/>
<path fill="#ece000" d="M122 1320l242 0l11 20l4 16l3 16l3 28l4 24l1 12l-2 20l-10 64l-2 56l-2 16l-10 32l-18 40l-28 53l-35 57l-161 0zM906 1388l8-1l8 3l8 6l4 8l4 48l11 48l0 32l2 28l-1 15l-4 21l-4 12l-28 70l-8 18l-16 28l-9 12l-4 4l-7 4l-8 2l-4 0l-8-2l-4-2l-8-8l-29-46l-7-12l-4-12l-1-8l1-12l4-16l11-32l3-12l1-12l-1-36l2-16l6-16l11-20l8-16l13-44l6-10l8-8l12-7z"/>
<path fill="#f8e100" d="M122 1320l234 0l10 16l4 8l7 32l6 52l-3 24l-7 32l-4 32l0 64l-1 8l-11 36l-16 36l-31 57l-24 39l-13 18l-151 0zM905 1408l8 1l5 3l4 6l1 6l9 44l8 32l0 32l3 24l0 12l-6 28l-22 44l-12 36l-3 8l-10 17l-12 15l-8 6l-8 2l-4-1l-6-3l-4-4l-6-8l-18-28l-5-12l-2-8l-1-16l2-16l4-12l12-24l1-8l-2-12l-9-32l-1-8l0-8l2-11l5-8l15-21l6-12l12-40l5-12l6-5l8-4l8-1z"/>
<path fill="#ffe000" d="M122 1320l227 0l13 20l1 4l8 32l6 48l-6 28l-7 28l-4 36l2 64l-1 8l-9 32l-18 40l-18 32l-17 28l-20 32l-16 22l-141 0zM886 1436l4-1l4 1l4 2l4 4l8 10l3 8l3 12l10 32l4 36l5 20l-5 28l-1 4l-2 4l-17 21l-11 3l-9 5l-4-1l-4-8l-12-12l-12-32l-7-12l-2-8l-4-4l-7-4l-4-5l-4-7l-1-8l1-6l1-6l6-8l5-3l12-6l3-3l3-4l14-38l8-10zM862 1503l-4 4l-1 1l1 8l-3 12l1 4l2 5l4 0l5-5l5-8l3-8l-1-8l-3-4l-1-1l-4-1zM847 1632l3-2l4-1l7 0l21 3l3 4l2 12l-1 16l-4 12l-4 5l-5 3l-3 1l-4 0l-4-1l-8-7l-4-6l-5-11l-1-12l1-12z"/>
<path fill="#ffdd00" d="M122 1320l221 0l11 20l3 8l7 32l4 24l1 16l-1 8l-11 44l-2 16l-2 32l1 56l-1 12l-9 32l-19 40l-15 29l-20 31l-19 28l-19 26l-130 0zM839 1512l3-2l4 0l4 2l2 4l1 4l-2 4l-1 3l-4 3l-4 1l-4-3l-2-4l-1-4l1-4zM893 1516l5-2l4-1l4 2l6 5l6 12l6 28l-2 16l-4 12l-8 10l-4 3l-8 2l-8-1l-4-2l-4-3l-4-5l-5-16l-4-16l2-12l6-12l9-13z"/>
<path fill="#ffd900" d="M122 1320l215 0l8 16l5 12l3 20l2 24l3 24l1 8l-2 12l-8 36l-2 16l-2 28l2 56l-1 12l-3 12l-5 20l-7 16l-10 20l-15 28l-36 55l-31 39l-117 0zM888 1536l6-3l4 0l4 1l2 2l4 8l3 12l0 12l-4 12l-5 8l-4 2l-4 1l-4-2l-3-5l-3-8l-2-16l0-8l2-8l1-4z"/>
<path fill="#ffcd00" d="M122 1320l208 0l7 12l4 12l2 12l1 12l-4 28l1 4l7 20l0 12l-9 56l-1 24l2 52l-1 16l-3 16l-6 20l-8 19l-9 17l-15 26l-36 52l-36 44l-104 0z"/>
<path fill="#ffbc00" d="M122 1320l199 0l9 11l3 9l1 8l0 12l-5 32l0 8l9 20l2 12l-1 12l-6 28l-2 16l0 20l2 52l-1 20l-4 16l-7 20l-7 18l-12 22l-12 19l-40 55l-38 44l-90 0z"/>
<path fill="#fea800" d="M122 1320l188 0l10 12l2 4l2 8l1 16l-3 36l2 8l7 20l1 8l-2 12l-5 24l-2 16l0 20l3 36l1 16l-2 16l-4 20l-7 20l-8 20l-10 16l-12 20l-22 30l-24 31l-17 19l-24 26l-75 0z"/>
<path fill="#fd9200" d="M122 1320l174 0l10 12l6 12l2 12l2 40l8 28l0 12l-7 32l-2 20l1 20l4 36l-1 20l-5 24l-9 24l-11 24l-12 19l-12 17l-48 59l-42 43l-58 0z"/>
<path fill="#fb7a00" d="M122 1320l161 0l11 12l5 12l5 16l7 40l6 24l0 8l-8 32l-2 16l0 20l6 44l-1 16l-2 12l-4 15l-12 29l-6 12l-16 24l-29 36l-33 39l-47 47l-41 0z"/>
<path fill="#f75f00" d="M122 1320l151 0l13 16l2 4l10 32l12 52l0 4l-7 20l-5 24l0 24l7 48l-1 16l-7 24l-13 32l-22 34l-28 34l-32 35l-56 55l-24 0z"/>
<path fill="#f34601" d="M122 1320l143 0l12 16l4 8l16 56l4 24l-8 28l-4 20l1 24l6 44l-1 16l-1 8l-4 12l-14 32l-4 8l-18 27l-24 30l-24 25l-44 42l-16 18l-12 16l-12 0z"/>
<path fill="#ef2f04" d="M122 1320l135 0l12 16l5 12l13 52l2 20l-1 8l-6 28l-2 16l1 20l4 44l0 12l-3 16l-8 22l-8 17l-9 13l-15 24l-15 20l-9 11l-12 12l-40 32l-12 12l-16 20l-16 27z"/>
<path fill="#ea2106" d="M122 1320l125 0l15 15l5 13l8 48l1 20l-1 12l-5 24l-1 16l5 52l0 24l-4 16l-6 16l-10 20l-27 44l-13 19l-8 8l-12 10l-37 23l-11 9l-12 13l-12 22z"/>
<path fill="#e7180a" d="M122 1320l112 0l16 12l7 8l3 12l1 20l-2 40l-4 44l1 16l5 32l0 24l-3 20l-4 14l-8 15l-21 31l-15 32l-8 13l-8 6l-9 5l-47 23l-9 5l-7 8z"/>
<path fill="#e5150f" d="M122 1320l77 0l3 1l24 9l16 9l5 5l2 4l1 8l-1 8l-2 12l-14 36l-3 16l0 12l2 16l9 40l1 12l-1 20l-4 16l-3 8l-8 11l-22 21l-7 8l-4 8l-6 28l-5 9l-5 3l-6 4l-33 14l-16 8z"/><g stroke="#000" stroke-linecap="round" fill="none"><path d="M132.5 1320.3V1523.4" stroke-width="4"/><path d="M254.1 1320.3V1565.6" stroke-width="4"/><path d="M323.9 1320.3V1431.3" stroke-width="4"/><path d="M460.5 1320.3V1477.5" stroke-width="4"/><path d="M512.1 1329.4V1460.8" stroke-width="4"/><path d="M528.5 1320.3V1574.6" stroke-width="4"/><path d="M544 1329.4V1427.2" stroke-width="4"/><path d="M596.3 1336.2V1751.2" stroke-width="3"/><path d="M602.3 1320.3V1600.55" stroke-width="4.3"/><path d="M636 1320.3V1560.1" stroke-width="4"/><path d="M713.7 1320.3V1450.9" stroke-width="7.8"/><path d="M717.1 1320.3V1661.5" stroke-width="4"/><path d="M776.6 1328.2V1514.1" stroke-width="4"/><path d="M821.7 1322.6V1469.4" stroke-width="4"/><path d="M833.9 1322.6V1469.4" stroke-width="4"/><path d="M866.4 1320.3V1550.6" stroke-width="4"/><path d="M901.6 1327.1V1502.7" stroke-width="4"/><path d="M946.8 1327.1V1614.8" stroke-width="4"/><path d="M1095.1 1320.3V1642.7" stroke-width="4"/><path d="M1172 1327.1V1493.7" stroke-width="4"/><path d="M1210.5 1320.3V1633.6" stroke-width="4"/><path d="M1274.9 1327.1V1418.1" stroke-width="4"/><path d="M1290.4 1327.1V1418.1" stroke-width="4"/><path d="M560.2 1332.4V1568.9" stroke-width="5.2" stroke-dasharray="0.1 7.56"/></g><g fill="none" stroke="#000" stroke-width="4.4" stroke-linecap="round" stroke-linejoin="round"><path d="M271.8 1320.0C274.1 1322.8 281.4 1328.4 285.5 1336.7C289.6 1345.0 293.2 1358.6 296.4 1369.6C299.6 1380.6 302.4 1392.9 304.7 1402.5C307.0 1412.1 310.2 1419.7 310.0 1427.0C309.8 1434.3 305.3 1439.0 303.3 1446.3C301.3 1453.6 298.7 1462.8 297.8 1471.0C296.9 1479.2 297.8 1491.5 297.8 1495.6"/><path d="M304.7 1547.7C304.5 1550.2 304.7 1556.8 303.3 1563.0C301.9 1569.2 299.8 1575.7 296.4 1584.8C293.0 1593.9 288.6 1606.8 282.7 1617.7C276.8 1628.7 269.0 1639.5 260.8 1650.5C252.6 1661.5 243.0 1672.4 233.4 1683.4C223.8 1694.4 213.4 1705.8 203.3 1716.3C193.2 1726.8 182.6 1736.8 173.0 1746.4C163.4 1756.0 150.3 1769.2 145.8 1773.8"/><path d="M348.5 1320.0C350.8 1323.7 358.4 1332.8 362.0 1342.0C365.6 1351.2 368.3 1364.5 370.4 1375.0C372.5 1385.5 373.6 1396.8 374.5 1405.0C375.4 1413.2 376.7 1416.6 376.0 1424.4C375.3 1432.2 372.5 1442.7 370.4 1451.8C368.3 1460.9 365.4 1467.6 363.6 1479.0C361.8 1490.4 360.0 1506.8 359.5 1520.0C359.0 1533.2 360.3 1547.2 360.5 1558.0C360.7 1568.8 362.4 1574.4 360.8 1584.8C359.2 1595.2 355.3 1608.5 351.0 1620.4C346.7 1632.3 340.7 1644.1 334.8 1656.0C328.9 1667.9 321.6 1681.1 315.6 1691.6C309.6 1702.1 301.8 1714.4 299.0 1719.0"/><path d="M411.5 1320.0C412.9 1324.6 416.1 1338.5 419.7 1347.7C423.3 1356.9 428.3 1365.9 433.4 1375.0C438.4 1384.1 447.2 1397.9 450.0 1402.5"/><path d="M473.0 1494.0C470.1 1498.8 461.1 1512.7 455.3 1523.0C449.5 1533.3 442.6 1548.0 438.0 1556.0C433.4 1564.0 432.9 1560.3 428.0 1571.0C423.1 1581.7 415.7 1604.4 408.8 1620.4C401.9 1636.4 394.1 1652.4 386.8 1667.0C379.5 1681.6 371.8 1694.8 365.0 1708.0C358.2 1721.2 351.3 1735.4 345.8 1746.4C340.3 1757.4 334.3 1769.2 332.0 1773.8"/><path d="M395.0 1773.8C396.4 1769.7 399.6 1758.1 403.3 1749.0C407.0 1739.9 411.5 1729.9 417.0 1719.0C422.5 1708.1 429.4 1694.2 436.2 1683.4C443.0 1672.6 449.5 1662.7 458.0 1654.0C466.5 1645.3 477.9 1638.4 487.4 1631.4C496.9 1624.4 505.7 1617.7 514.8 1612.2C523.9 1606.7 533.1 1603.5 542.2 1598.5C551.3 1593.5 560.6 1588.2 569.6 1582.0C578.6 1575.8 589.1 1562.9 596.4 1561.5C603.7 1560.1 606.9 1568.1 613.4 1573.8C619.9 1579.5 628.9 1587.6 635.3 1595.8C641.7 1604.0 646.8 1613.4 651.8 1623.0C656.8 1632.6 661.4 1643.2 665.5 1653.3C669.6 1663.4 673.4 1675.2 676.4 1683.4C679.4 1691.6 682.1 1699.4 683.3 1702.6"/><path d="M501.0 1742.3C503.3 1738.9 507.9 1730.7 514.8 1721.8C521.7 1712.9 533.1 1699.0 542.2 1689.0C551.3 1679.0 560.6 1668.4 569.6 1661.5C578.6 1654.6 589.5 1648.2 596.4 1647.8C603.2 1647.3 606.0 1652.4 610.7 1658.8C615.4 1665.2 620.3 1676.4 624.4 1686.0C628.5 1695.6 632.1 1706.2 635.3 1716.3C638.5 1726.4 641.3 1736.8 643.6 1746.4C645.9 1756.0 648.1 1769.2 649.0 1773.8"/><path d="M510.0 1320.0C510.6 1321.8 510.3 1326.8 513.4 1331.0C516.5 1335.2 522.4 1341.5 528.5 1345.0C534.6 1348.5 546.4 1350.7 550.0 1351.8"/><path d="M720.0 1320.0 L724.0 1332.0"/><path d="M806.0 1338.0C807.2 1336.0 811.9 1328.8 813.4 1325.8C814.9 1322.8 814.7 1321.0 815.0 1320.0"/><path d="M866.0 1320.0C865.9 1320.5 866.4 1317.2 865.2 1323.0C864.0 1328.8 862.6 1346.7 859.0 1354.5C855.4 1362.3 848.9 1363.4 843.6 1369.6C838.3 1375.8 831.6 1384.2 827.0 1391.5C822.4 1398.8 819.8 1403.4 816.2 1413.4C812.6 1423.5 808.4 1438.5 805.2 1451.8C802.0 1465.1 800.2 1482.7 797.0 1493.0C793.8 1503.3 787.8 1510.0 786.0 1513.4"/><path d="M720.0 1536.7C717.8 1538.1 710.2 1539.3 706.6 1545.0C703.0 1550.7 700.0 1560.7 698.4 1571.0C696.8 1581.3 696.6 1595.3 697.0 1606.7C697.4 1618.1 698.5 1630.0 701.0 1639.6C703.5 1649.2 706.5 1655.5 712.0 1664.2C717.5 1672.9 725.8 1681.1 734.0 1691.6C742.2 1702.1 753.2 1716.8 761.4 1727.3C769.6 1737.8 777.4 1747.0 783.3 1754.7C789.2 1762.5 794.7 1770.6 797.0 1773.8"/><path d="M915.6 1477.4C917.2 1482.1 922.6 1494.7 925.0 1505.7C927.4 1516.7 928.2 1534.2 929.8 1543.5C931.4 1552.8 934.8 1553.2 934.5 1561.5C934.2 1569.8 932.4 1584.1 928.2 1593.0C924.0 1601.9 915.6 1610.5 909.3 1615.0C903.0 1619.5 896.7 1621.9 890.4 1619.8C884.1 1617.7 876.7 1610.6 871.5 1602.5C866.3 1594.4 862.1 1578.1 859.0 1571.0C855.9 1563.9 853.1 1569.8 852.6 1560.0C852.1 1550.2 853.7 1525.2 855.8 1512.0C857.9 1498.8 863.5 1485.8 865.0 1480.5"/><path d="M961.3 1320.0C961.3 1325.8 960.5 1340.9 961.3 1354.5C962.1 1368.1 964.2 1386.0 966.0 1401.8C967.8 1417.5 970.2 1430.6 972.3 1449.0C974.4 1467.4 977.1 1493.5 978.6 1512.0C980.1 1530.5 981.5 1543.9 981.0 1560.0C980.5 1576.1 978.0 1593.8 975.5 1608.8C973.0 1623.8 970.2 1636.6 966.0 1649.7C961.8 1662.8 955.0 1675.5 950.3 1687.5C945.6 1699.5 939.8 1716.2 937.7 1722.0"/><path d="M1000.7 1320.0C1001.1 1333.3 1002.0 1368.5 1003.0 1400.0C1004.0 1431.5 1006.3 1490.8 1007.0 1509.0"/><path d="M1000.7 1634.0C999.1 1640.3 994.4 1657.6 991.2 1671.8C988.1 1686.0 984.4 1702.2 981.8 1719.0C979.2 1735.8 976.5 1763.7 975.5 1772.6"/><path d="M1029.0 1320.0C1029.5 1325.8 1031.2 1341.9 1032.2 1354.5C1033.2 1367.1 1034.8 1388.7 1035.3 1395.5"/><path d="M1033.8 1449.0C1033.3 1459.5 1031.4 1493.5 1030.6 1512.0C1029.8 1530.5 1029.8 1541.2 1029.0 1560.0C1028.2 1578.8 1027.2 1603.2 1025.9 1624.5C1024.6 1645.8 1022.5 1662.8 1021.2 1687.5C1019.9 1712.2 1018.5 1758.4 1018.0 1772.6"/><path d="M1055.8 1320.0C1056.6 1324.2 1058.1 1336.6 1060.5 1345.0C1062.9 1353.4 1067.9 1360.8 1070.0 1370.3C1072.1 1379.8 1073.3 1391.3 1073.0 1401.8C1072.7 1412.3 1070.5 1420.2 1068.4 1433.3C1066.3 1446.4 1062.3 1464.8 1060.5 1480.5C1058.7 1496.2 1058.2 1514.3 1057.4 1527.8C1056.6 1541.3 1056.3 1545.4 1055.8 1561.5C1055.3 1577.6 1054.2 1600.9 1054.2 1624.5C1054.2 1648.1 1055.5 1690.2 1055.8 1703.3"/><path d="M1205.5 1738.0C1199.7 1732.7 1181.8 1716.4 1170.8 1706.4C1159.8 1696.4 1148.8 1687.5 1139.3 1678.0C1129.8 1668.5 1120.3 1658.6 1114.0 1649.7C1107.7 1640.8 1103.1 1634.0 1101.5 1624.5C1099.9 1615.0 1102.0 1603.5 1104.6 1593.0C1107.2 1582.5 1111.8 1568.8 1117.0 1561.5C1122.2 1554.2 1129.7 1550.6 1136.0 1549.0C1142.3 1547.4 1146.6 1549.4 1155.0 1552.0C1163.4 1554.6 1176.1 1558.4 1186.6 1564.7C1197.1 1571.0 1207.5 1581.1 1218.0 1590.0C1228.5 1598.9 1239.1 1608.6 1249.6 1618.0C1260.1 1627.4 1273.1 1638.7 1281.0 1646.6C1288.9 1654.5 1294.2 1662.3 1296.8 1665.5"/><path d="M1240.0 1320.0 L1246.0 1326.0"/></g></g><g font-family="Liberation Sans, Arial, sans-serif" fill="#000" clip-path="url(#clipC)"><g transform="translate(304.7 1521.6) rotate(85)"><text x="-9.8" y="13.5" font-size="38" font-weight="bold" font-style="italic" textLength="19.7" lengthAdjust="spacingAndGlyphs">8</text></g><g transform="translate(266.7 1766.7) rotate(-55)"><text x="-34.4" y="13.5" font-size="38" font-weight="bold" font-style="italic" textLength="68.8" lengthAdjust="spacingAndGlyphs">7.75</text></g><g transform="translate(475 1449) rotate(75)"><text x="-24.6" y="13.5" font-size="38" font-weight="bold" font-style="italic" textLength="49.1" lengthAdjust="spacingAndGlyphs">7.5</text></g><g transform="translate(560 1331) rotate(10)"><text x="-34.4" y="13.5" font-size="38" font-weight="bold" font-style="italic" textLength="68.8" lengthAdjust="spacingAndGlyphs">7.25</text></g><g transform="translate(765 1350) rotate(-5)"><text x="-34.4" y="13.5" font-size="38" font-weight="bold" font-style="italic" textLength="68.8" lengthAdjust="spacingAndGlyphs">7.25</text></g><g transform="translate(743.5 1530) rotate(-8)"><text x="-24.6" y="13.5" font-size="38" font-weight="bold" font-style="italic" textLength="49.1" lengthAdjust="spacingAndGlyphs">7.5</text></g><g transform="translate(900 1457) rotate(-8)"><text x="-34.4" y="13.5" font-size="38" font-weight="bold" font-style="italic" textLength="68.8" lengthAdjust="spacingAndGlyphs">7.75</text></g><g transform="translate(1032 1420.7) rotate(72)"><text x="-9.8" y="13.5" font-size="38" font-weight="bold" font-style="italic" textLength="19.7" lengthAdjust="spacingAndGlyphs">7</text></g><g transform="translate(1006 1566) rotate(-82)"><text x="-34.4" y="13.5" font-size="38" font-weight="bold" font-style="italic" textLength="68.8" lengthAdjust="spacingAndGlyphs">7.25</text></g><g transform="translate(1273 1355) rotate(72)"><text x="-34.4" y="13.5" font-size="38" font-weight="bold" font-style="italic" textLength="68.8" lengthAdjust="spacingAndGlyphs">6.75</text></g><g transform="translate(704 1757) rotate(75)"><text x="-34.4" y="13.5" font-size="38" font-weight="bold" font-style="italic" textLength="68.8" lengthAdjust="spacingAndGlyphs">7.25</text></g><g transform="translate(479 1760) rotate(-50)"><text x="-9.8" y="13.5" font-size="38" font-weight="bold" font-style="italic" textLength="19.7" lengthAdjust="spacingAndGlyphs">7</text></g><g transform="translate(917 1765) rotate(-65)"><text x="-24.6" y="13.5" font-size="38" font-weight="bold" font-style="italic" textLength="49.1" lengthAdjust="spacingAndGlyphs">7.5</text></g><g transform="translate(1059 1761) rotate(87)"><text x="-34.4" y="13.5" font-size="38" font-weight="bold" font-style="italic" textLength="68.8" lengthAdjust="spacingAndGlyphs">6.75</text></g><g transform="translate(1245 1770) rotate(40)"><text x="-24.6" y="13.5" font-size="38" font-weight="bold" font-style="italic" textLength="49.1" lengthAdjust="spacingAndGlyphs">6.5</text></g></g><g font-family="Liberation Sans, Arial, sans-serif"><g fill="none" stroke="#0a0018"><path d="M120.3 1320H1298.2" stroke-width="2.8"/><path d="M120.3 1774.5H1298.2" stroke-width="3.2"/><path d="M121.1 1318.8V1776" stroke-width="1.9"/><path d="M1297.2 1318.8V1776" stroke-width="2.5"/></g><text x="79.8" y="1332.8" font-size="38" font-weight="bold" font-style="italic" textLength="19.7" lengthAdjust="spacingAndGlyphs">0</text><text x="60.2" y="1559.5" font-size="38" font-weight="bold" font-style="italic" textLength="39.3" lengthAdjust="spacingAndGlyphs">10</text><text x="60.2" y="1786.5" font-size="38" font-weight="bold" font-style="italic" textLength="39.3" lengthAdjust="spacingAndGlyphs">20</text><text x="112.7" y="1827.5" font-size="38" font-weight="bold" font-style="italic" textLength="19.7" lengthAdjust="spacingAndGlyphs">0</text><text x="342.1" y="1827.5" font-size="38" font-weight="bold" font-style="italic" textLength="39.3" lengthAdjust="spacingAndGlyphs">20</text><text x="582.3" y="1827.5" font-size="38" font-weight="bold" font-style="italic" textLength="39.3" lengthAdjust="spacingAndGlyphs">40</text><text x="824.3" y="1827.5" font-size="38" font-weight="bold" font-style="italic" textLength="39.3" lengthAdjust="spacingAndGlyphs">60</text><text x="1063.3" y="1827.5" font-size="38" font-weight="bold" font-style="italic" textLength="39.3" lengthAdjust="spacingAndGlyphs">80</text><g stroke="#000" stroke-width="2.8"><path d="M120.5 1320.3h-10"/><path d="M120.5 1547h-10"/><path d="M120.5 1774h-10"/><path d="M119.5 1433.5h-5" stroke-width="1.2" stroke="#aaa"/><path d="M119.5 1660.5h-5" stroke-width="1.2" stroke="#aaa"/><path d="M121.5 1774v11"/><path d="M360.8 1774v11"/><path d="M601 1774v11"/><path d="M843 1774v11"/><path d="M1082 1774v11"/><path d="M241 1775v7" stroke-width="1.2" stroke="#aaa"/><path d="M481 1775v7" stroke-width="1.2" stroke="#aaa"/><path d="M722 1775v7" stroke-width="1.2" stroke="#aaa"/><path d="M963 1775v7" stroke-width="1.2" stroke="#aaa"/><path d="M1202.5 1775v7" stroke-width="1.2" stroke="#aaa"/></g><text x="-54.6" y="1548.3" font-size="40"  textLength="181.0" lengthAdjust="spacingAndGlyphs" transform="rotate(-90 35.9 1548.3)" stroke="#000" stroke-width="1.3">Depth (m)</text><text x="1324.5" y="1764.2" font-size="20.8" font-weight="bold" font-style="italic" textLength="166.4" lengthAdjust="spacingAndGlyphs" transform="rotate(-90 1324.5 1764.2)">Ocean Data View</text></g><g font-family="Liberation Sans, Arial, sans-serif"><rect x="1344.3" y="1320.3" width="40.1" height="453.9" fill="url(#odv)"/><path d="M1344.3 1320.8L1358.35 1313.8Q1364.35 1311.8 1370.35 1313.8L1384.4 1320.8Z" fill="#fdcf96"/><path d="M1344.3 1773.7L1358.35 1780.7Q1364.35 1782.7 1370.35 1780.7L1384.4 1773.7Z" fill="#f07af0"/><text x="1394.9" y="1332.3" font-size="36" font-weight="bold" font-style="italic" textLength="45.0" lengthAdjust="spacingAndGlyphs">8.5</text><text x="1394.9" y="1433.2" font-size="36" font-weight="bold" font-style="italic" textLength="18.0" lengthAdjust="spacingAndGlyphs">8</text><text x="1394.9" y="1534.0" font-size="36" font-weight="bold" font-style="italic" textLength="45.0" lengthAdjust="spacingAndGlyphs">7.5</text><text x="1394.9" y="1634.9" font-size="36" font-weight="bold" font-style="italic" textLength="18.0" lengthAdjust="spacingAndGlyphs">7</text><text x="1394.9" y="1735.8" font-size="36" font-weight="bold" font-style="italic" textLength="45.0" lengthAdjust="spacingAndGlyphs">6.5</text><g stroke="#000" stroke-width="2.8" stroke-linecap="round"><path d="M1344.8 1320.3h7M1383.9 1320.3h-7"/><path d="M1344.8 1421.17h7M1383.9 1421.17h-7"/><path d="M1344.8 1522.03h7M1383.9 1522.03h-7"/><path d="M1344.8 1622.9h7M1383.9 1622.9h-7"/><path d="M1344.8 1723.77h7M1383.9 1723.77h-7"/></g></g><clipPath id="clipD"><rect x="121" y="1885" width="1181" height="477"/></clipPath><g clip-path="url(#clipD)"><rect x="121" y="1885" width="1181" height="477" fill="#6234ff"/>
<path fill="#5f3bff" d="M121 1885l343 0l69 8l24 2l20-1l24-3l13-2l12-4l676 0l0 477l-1181 0z"/>
<path fill="#5b42ff" d="M121 1885l308 0l40 8l72 10l80 6l8 0l8-4l8-6l12-14l452 0l0 8l2 8l6 10l4 4l8 6l8 3l4 0l4 0l8-2l8-5l4-3l10-13l9-16l118 0l0 469l-4 8l-1177 0z"/>
<path fill="#564aff" d="M121 1885l277 0l67 14l48 7l76 13l12 4l11 6l12 8l13 12l8 4l4 1l4-1l4-1l3-3l3-4l2-8l1-20l2-12l5-10l9-10l408 0l2 16l3 12l6 13l8 13l12 16l8 8l12 8l8 2l8-2l8-4l8-6l12-12l8-10l9-14l20-40l80 0l0 300l-25-24l-42-48l-18-19l-16-15l-16-12l-16-9l-8-1l-4 0l-8 2l-4 3l-8 8l-4 6l-5 9l-5 12l-2 12l-1 12l2 40l7 54l8 34l5 12l7 14l4 5l8 9l8 5l16 9l4 4l1 6l-4 28l0 21l-1065 0z"/>
<path fill="#5053ff" d="M121 1885l252 0l88 19l60 10l40 9l20 6l12 5l12 7l28 24l16 12l12 7l8 2l4 0l4-1l4-4l4-7l4-17l3-44l4-12l12-16l368 0l2 16l3 13l26 67l4 16l2 12l0 12l-2 16l-13 64l0 52l3 104l2 36l6 37l4 15l6 17l-998 0zM1256 1889l2-4l44 0l0 216l-25-21l-46-43l-14-16l-5-8l-3-8l-1-8l4-12l19-40z"/>
<path fill="#495dff" d="M121 1885l95 0l29 3l20 1l32 0l32-1l24 1l24 3l80 18l44 7l28 6l44 13l12 6l12 7l15 12l20 20l37 43l8 5l4 0l4-1l8-7l5-8l5-12l3-16l1-44l2-16l3-12l12-28l340 0l2 16l3 12l17 60l4 20l1 16l0 28l-7 56l-1 20l-2 48l-2 112l1 24l1 24l3 20l5 21l-968 0zM1300 1893l2-1l0 125l-11-12l-7-12l-4-12l-1-16l1-20l6-24l7-18z"/>
<path fill="#3f66ff" d="M121 1889l0-3l76 4l60 6l76-2l32 2l20 4l72 16l56 10l28 8l24 8l20 10l16 12l14 13l16 20l10 16l7 16l6 20l8 32l4 12l8 12l7 5l4 1l4 0l4-2l5-8l5-40l15-48l3-20l-2-36l1-20l3-16l13-36l318 0l3 24l12 44l3 16l3 20l1 20l0 32l-9 124l-4 120l1 36l4 41l-947 0z"/>
<path fill="#356fff" d="M745 1889l1-4l298 0l3 24l14 56l2 20l1 32l-3 72l-6 84l-6 120l0 32l2 37l-930 0l0-470l76 4l60 6l76-2l36 3l24 4l64 15l32 5l24 5l28 9l24 10l16 9l16 11l10 10l12 16l9 16l6 16l4 16l7 40l4 12l4 9l7 11l9 10l24 23l4 3l4 1l4-4l4-14l4-23l5-44l14-52l1-20l-3-32l-1-24l4-16z"/>
<path fill="#2c79ff" d="M755 1885l281 0l2 20l13 60l2 56l-2 68l-6 92l-7 108l-2 73l-915 0l0-465l72 5l64 7l44-2l36 0l36 2l20 4l64 15l32 5l24 5l28 11l24 11l9 5l19 14l6 6l14 20l11 28l12 64l9 22l4 6l36 42l12 9l8 2l8-2l4-4l4-6l2-9l4-28l1-32l2-24l9-32l5-24l0-20l-6-32l0-24l8-28z"/>
<path fill="#2483ff" d="M764 1885l264 0l2 20l12 60l1 60l-4 108l-11 172l-5 57l-902 0l0-459l64 5l72 7l40-2l40 1l40 2l20 4l60 13l28 5l28 7l28 11l24 13l24 18l16 22l10 28l11 64l11 29l46 75l6 6l8 5l4 2l8 0l8-1l4-2l8-7l4-5l3-6l3-12l1-16l0-68l1-20l2-12l8-28l4-24l-2-24l-8-28l1-24l8-28z"/>
<path fill="#1d8cfe" d="M773 1885l248 0l11 80l2 52l0 24l-3 60l-1 52l-10 144l-3 24l-7 41l-889 0l0-453l60 4l76 8l88 0l24 1l16 2l72 15l28 5l21 5l11 4l19 8l25 14l18 14l10 12l10 16l7 20l5 24l6 40l18 60l0 8l0 8l-7 24l0 8l1 13l5 15l4 8l7 7l16 11l16 8l12 4l12 3l8 0l8-1l8-4l8-6l8-9l5-9l6-12l3-12l3-12l1-24l-5-52l-1-40l1-20l9-40l2-20l-3-20l-9-28l-2-12l1-12l2-8l9-28z"/>
<path fill="#1894fd" d="M780 1889l2-4l231 0l3 16l7 60l3 56l-1 40l-4 44l1 52l-8 96l-3 52l-6 28l-9 33l-251 0l12-19l8-20l8-39l5-43l1-20l0-20l-11-64l-3-32l1-24l7-44l1-20l-3-20l-11-28l-2-8l0-4l4-20l9-28zM121 1917l0-2l52 3l88 9l60 2l44 0l28 3l88 17l24 6l16 6l16 8l25 16l11 9l9 11l7 12l7 16l6 24l7 44l9 44l2 12l-1 12l-8 36l-4 28l0 16l3 16l6 12l5 8l8 8l14 12l6 6l24 38l10 13l-562 0z"/>
<path fill="#139cfb" d="M789 1889l2-4l214 0l4 12l1 12l7 116l0 36l-4 40l2 36l-1 24l-8 88l-4 52l-3 12l-6 19l-13 30l-174 0l-5-93l-3-56l-4-20l-12-56l-4-28l0-24l6-52l0-20l-3-16l-14-32l-1-8l2-12l5-17l8-23zM121 1925l0-3l56 1l136 15l16 0l44-1l28 3l76 13l24 7l16 6l16 8l16 10l12 10l8 8l9 11l6 12l6 16l7 28l11 72l1 16l-2 16l-18 72l-3 16l-1 12l1 16l3 18l14 55l-482 0z"/>
<path fill="#0fa5f9" d="M799 1889l3-4l194 0l5 12l2 12l1 40l6 92l-1 24l-4 36l3 40l-2 36l-8 68l-4 44l-2 12l-6 16l-7 16l-10 17l-8 12l-115 0l-5-13l-9-32l-20-116l-14-52l-5-24l-2-20l-1-16l5-56l0-20l-4-16l-12-28l-3-12l1-12l8-24l7-20zM121 1929l0-1l8 0l52 1l76 9l60 10l16 0l44-3l20 1l20 3l60 10l24 7l16 7l15 8l13 9l13 11l7 8l8 12l6 12l6 16l7 36l6 40l1 20l-1 20l-4 20l-7 24l-17 44l-7 28l-2 16l0 16l5 49l-445 0z"/>
<path fill="#0caef7" d="M813 1889l4-4l166 0l6 10l3 10l3 56l6 64l1 24l-1 20l-3 32l3 32l0 20l-2 24l-3 24l-14 88l-4 12l-3 8l-12 20l-14 16l-12 9l-8 4l-8 2l-8 1l-8 0l-8-2l-8-4l-8-6l-8-8l-10-16l-8-20l-15-48l-16-64l-16-60l-5-24l-1-20l1-20l3-40l0-20l-4-16l-11-28l-2-8l0-8l4-20l7-20l5-10zM121 1937l0-2l52 0l12 0l68 8l24 5l32 9l12 1l12 0l36-5l20-1l20 2l46 7l30 6l24 9l23 13l19 16l7 8l8 12l6 12l6 16l4 20l5 28l3 28l1 20l-2 20l-6 24l-8 20l-22 44l-7 16l-4 16l-2 12l-1 12l3 49l-421 0z"/>
<path fill="#09b7f5" d="M834 1889l6-4l123 0l11 12l4 8l2 8l4 56l9 60l2 20l-1 20l-2 32l2 44l-3 40l-4 20l-14 63l-4 14l-4 10l-8 13l-8 9l-12 9l-12 4l-8 1l-8-2l-12-6l-12-12l-12-19l-12-27l-8-21l-29-96l-6-24l-3-20l-1-20l4-52l0-20l-2-16l-11-32l-1-16l3-16l6-16l8-12zM121 1945l0-2l56-2l64 6l32 7l36 12l12 3l12-1l36-7l20-1l20 1l48 6l27 6l21 8l21 12l18 16l10 12l8 12l5 12l5 16l5 24l4 28l1 20l0 20l-3 24l-7 20l-7 14l-28 46l-9 20l-6 16l-3 12l-1 12l3 32l0 13l-400 0z"/>
<path fill="#06c0f2" d="M867 1889l7-4l55 0l13 8l15 15l5 9l4 12l6 44l14 68l1 20l-1 44l1 36l-2 32l-4 23l-12 41l-8 22l-4 10l-8 12l-8 7l-8 5l-8 2l-12-2l-12-7l-12-13l-12-20l-12-28l-26-76l-7-24l-4-20l-2-16l0-16l5-48l1-20l-1-16l-7-32l-1-12l1-8l4-12l8-12l13-12zM147 1949l38-1l60 6l29 7l39 16l8 2l8 0l36-9l28-3l16 1l52 6l24 6l21 9l19 12l16 16l8 10l6 10l7 16l4 16l5 24l2 28l1 20l-1 20l-4 20l-6 16l-25 36l-15 24l-13 24l-9 20l-3 12l-2 12l1 12l2 16l-1 9l-377 0l0-412z"/>
<path fill="#02caee" d="M889 1905l12-2l8 1l8 3l12 9l5 5l6 8l5 12l13 40l10 28l9 33l2 11l2 32l-1 56l-6 48l-14 36l-11 21l-6 7l-6 6l-4 2l-8 2l-4 0l-7-2l-9-6l-12-15l-9-15l-19-44l-15-40l-8-28l-2-16l-1-28l12-72l1-12l-1-32l2-12l4-9l8-11l12-10zM137 1957l52-2l56 4l28 8l48 22l4 0l32-9l36-6l40 3l28 3l24 7l20 9l20 15l9 10l9 12l5 8l8 20l3 12l4 24l3 32l-2 28l-2 16l-3 12l-4 8l-22 29l-21 31l-26 44l-13 28l-8 24l-4 13l-340 0l0-404z"/>
<path fill="#00d3ea" d="M132 1965l57-2l56 2l28 9l48 22l4 1l32-9l36-6l40 2l24 3l24 6l20 9l18 15l6 7l12 16l3 5l9 24l5 28l2 32l-2 32l-2 16l-5 12l-19 24l-27 38l-27 42l-13 24l-12 27l-5 18l-323 0l0-397zM906 1981l7-2l4 1l12 4l8 8l16 19l16 38l5 36l-2 56l-8 44l-3 7l-16 25l-4 4l-16 5l-8-3l-16-10l-20-34l-5-10l-14-36l-8-32l-2-24l1-8l12-44l4-7l16-22l8-8z"/>
<path fill="#00dce4" d="M125 1973l76-2l40 0l28 8l48 21l8 2l36-7l36-4l36 1l20 2l20 5l15 6l13 8l16 16l11 16l5 10l6 18l5 24l2 16l0 16l-3 36l-2 12l-3 8l-5 8l-42 56l-26 40l-12 22l-12 25l-5 13l-3 13l-312 0l0-389zM902 2021l11-3l8 0l12 4l8 7l8 10l7 14l5 16l3 16l1 16l-2 32l-2 13l-5 19l-5 12l-6 9l-8 6l-8 3l-8-1l-8-3l-8-7l-9-11l-7-12l-9-20l-5-16l-5-20l-1-12l0-16l1-8l4-12l6-12l5-9l8-9z"/>
<path fill="#00e4df" d="M121 1981l52 0l44-4l24 1l24 6l52 21l8 1l12 0l60-7l28 1l24 2l16 3l16 6l14 10l12 12l9 12l7 16l6 16l5 24l2 24l-5 48l-2 8l-7 12l-41 55l-24 37l-12 23l-12 25l-6 16l-3 13l-303 0zM917 2049l4 0l8 2l8 6l4 5l4 7l4 9l3 11l1 8l0 12l-2 16l-2 11l-4 12l-4 8l-4 5l-6 4l-6 1l-6-1l-6-4l-4-4l-6-8l-6-12l-4-12l-3-12l-2-12l0-16l2-8l3-9l5-7l7-7l4-3z"/>
<path fill="#00e7cf" d="M206 1985l23-1l20 2l20 5l48 18l8 2l16 0l68-3l24 1l20 3l16 5l15 8l13 12l8 12l6 12l4 12l11 44l0 16l-3 40l-3 8l-7 12l-37 48l-23 36l-12 22l-13 26l-8 20l-5 17l-294 0l0-374l56 1z"/>
<path fill="#00e5b7" d="M199 1993l26-3l12 0l12 1l16 4l36 12l16 6l12 3l20 1l68 1l28 2l16 5l12 6l12 10l9 12l7 16l16 52l2 16l-2 24l-2 12l-3 8l-7 11l-33 41l-23 36l-15 28l-13 27l-8 20l-6 18l-286 0l0-366l20 0l36 1z"/>
<path fill="#00e3a0" d="M215 1997l22-1l16 2l48 13l20 7l12 3l40 4l52 3l20 3l12 4l12 7l10 11l8 12l5 12l6 20l10 20l3 12l1 8l0 12l-1 12l-2 8l-3 8l-5 8l-33 40l-11 17l-12 19l-28 56l-10 24l-8 21l-278 0l0-359l56 0z"/>
<path fill="#02df88" d="M201 2005l28-3l20 0l20 5l20 6l12 1l16 7l16 4l40 7l48 5l16 3l14 5l10 6l8 8l8 12l13 30l11 19l4 9l1 8l1 8l0 8l-2 9l-3 7l-5 9l-32 39l-12 17l-12 20l-32 65l-10 22l-7 21l-271 0l0-351l56-2z"/>
<path fill="#03db71" d="M214 2009l19-2l12 0l28 6l16 4l12 1l4 1l8 6l4 1l56 13l52 9l16 5l13 8l11 12l32 56l4 10l1 10l-1 8l-4 8l-8 12l-28 32l-23 36l-35 72l-19 45l-263 0l0-344l52-3z"/>
<path fill="#04d65c" d="M230 2013l11-1l12 1l24 5l12 5l12-2l4 2l2 2l2 4l12 2l48 14l44 10l16 5l8 3l9 6l11 12l36 55l2 5l2 8l-1 4l-3 6l-8 10l-16 17l-15 19l-24 40l-39 84l-14 33l-256 0l0-337l44-4l40-6z"/>
<path fill="#06d04c" d="M204 2021l41-4l32 5l4 2l8 4l4 0l4-4l4-1l3 2l2 8l3 2l8 0l4 1l48 15l36 11l24 9l8 5l9 9l19 26l14 22l10 12l1 4l-1 2l-24 24l-21 30l-22 40l-52 117l-249 0l0-329l40-5z"/>
<path fill="#07c93c" d="M216 2025l25-3l8 0l24 4l16 6l4-1l4-4l4-1l2 3l1 4l1 3l4 2l12 2l84 31l20 10l10 8l18 24l11 20l4 12l-2 8l-27 44l-20 40l-56 125l-242 0l0-321z"/>
<path fill="#09c32f" d="M224 2029l17-2l12 0l20 3l16 5l4-1l4-4l4-2l1 9l5 4l14 4l61 24l18 8l13 8l10 8l7 8l11 16l6 12l2 8l1 8l-1 8l-3 8l-34 76l-26 60l-30 65l-235 0l0-313l76-16z"/>
<path fill="#0cc128" d="M229 2033l12-2l12 0l16 2l20 5l8-1l8 7l4 2l68 28l20 11l15 12l7 8l6 8l8 16l2 12l0 12l-3 12l-6 20l-9 24l-35 84l-33 69l-228 0l0-305l76-18z"/>
<path fill="#0fbe21" d="M233 2037l12-1l16 0l12 2l24 6l8 4l32 15l36 16l11 6l10 8l12 12l8 12l5 12l3 12l0 12l-2 16l-4 20l-5 16l-35 88l-34 69l-221 0l0-297l76-20z"/>
<path fill="#13bc1c" d="M236 2041l13-1l16 0l28 7l48 24l28 13l9 5l8 8l10 12l6 12l5 12l3 12l1 16l-1 16l-3 16l-5 16l-32 84l-34 69l-215 0l0-289l80-24z"/>
<path fill="#16bb1a" d="M237 2045l12-1l20 1l24 7l16 7l36 21l20 9l6 4l8 8l9 16l8 20l3 16l2 20l-1 16l-3 12l-18 52l-17 44l-32 65l-209 0l0-281l84-27z"/>
<path fill="#18ba18" d="M238 2049l11-1l20 0l8 2l20 7l12 7l36 23l16 8l4 3l5 7l13 32l5 16l4 16l1 16l-2 12l-2 8l-25 72l-8 20l-32 65l-203 0l0-273l84-30z"/>
<path fill="#1bb916" d="M239 2053l10-1l24 0l28 11l31 22l13 12l12 8l2 4l21 48l4 16l1 16l0 8l-2 8l-15 44l-13 36l-38 77l-196 0l0-264l88-36z"/>
<path fill="#1fb814" d="M239 2057l10-2l24 1l28 12l27 21l19 24l11 16l5 8l7 16l6 20l3 20l-2 8l-12 40l-16 44l-39 77l-189 0l0-256l88-39z"/>
<path fill="#2ebb0c" d="M240 2061l9-2l20 0l4 1l20 8l8 4l24 21l28 40l10 20l8 24l1 16l0 4l-13 44l-14 40l-20 40l-22 41l-182 0l0-248l88-42z"/>
<path fill="#3dbe05" d="M240 2065l9-2l20 0l8 2l20 9l18 15l8 8l24 36l7 12l5 12l5 16l1 8l1 12l-2 12l-8 28l-16 44l-27 53l-12 21l-8 11l-172 0l0-240l88-45z"/>
<path fill="#4dc100" d="M239 2069l14-2l16 0l16 5l12 7l17 14l7 8l26 40l7 16l3 12l3 12l0 12l-2 12l-5 20l-14 40l-9 20l-21 38l-16 26l-10 13l-162 0l0-232l36-21l53-28l11-5z"/>
<path fill="#5ec500" d="M239 2073l10-3l16 0l16 4l12 6l16 13l7 8l14 20l12 20l5 12l5 12l2 12l1 12l-2 12l-3 16l-7 20l-7 20l-11 24l-24 42l-16 23l-14 16l-150 0l0-224l47-29l42-24l15-7z"/>
<path fill="#70c900" d="M237 2077l12-3l16 0l12 3l12 5l14 11l10 10l13 18l12 20l5 12l4 12l2 12l0 12l-1 12l-4 16l-12 36l-15 30l-24 39l-16 21l-19 19l-137 0l0-216l44-29l26-16l30-17z"/>
<path fill="#81cd00" d="M253 2077l16 1l12 4l8 4l12 9l10 10l10 15l10 17l6 12l4 12l3 12l1 8l-1 12l-3 16l-3 12l-14 36l-19 33l-20 29l-20 24l-22 19l-122 0l0-207l16-11l37-27l44-28l15-7l12-4z"/>
<path fill="#93d100" d="M248 2081l9-1l20 4l8 3l8 6l9 8l8 8l13 20l10 20l4 12l3 12l-1 16l-5 28l-13 33l-8 15l-12 19l-20 28l-24 26l-28 24l-108 0l0-199l20-14l35-28l24-16l25-16z"/>
<path fill="#a2d500" d="M245 2085l12-1l16 2l8 3l6 4l14 11l5 5l13 20l10 20l6 24l0 12l-6 28l-14 36l-6 11l-19 29l-17 20l-24 25l-35 28l-93 0l0-190l20-14l32-29l24-18l28-18l8-4z"/>
<path fill="#b2d800" d="M244 2089l5-2l8 0l20 3l5 3l20 16l14 20l9 20l3 8l3 16l0 8l-7 32l-13 32l-6 11l-21 29l-7 9l-32 33l-24 19l-22 16l-78 0l0-181l24-18l32-31l24-19l28-19z"/>
<path fill="#c1da00" d="M242 2093l7-2l8-1l17 3l7 3l16 13l4 4l12 18l8 18l3 8l3 16l-1 8l-6 28l-15 35l-4 7l-28 37l-32 32l-53 42l-67 0l0-172l28-23l32-32l21-18l27-19z"/>
<path fill="#d1dc00" d="M239 2097l14-4l16 2l8 3l20 15l11 16l4 8l7 16l3 20l-1 8l-6 24l-3 8l-15 32l-26 36l-30 28l-52 43l-9 10l-59 0l0-162l32-28l33-35l17-16l26-20z"/>
<path fill="#ddde00" d="M249 2097l8-1l16 4l4 1l10 8l9 8l8 12l4 8l5 12l3 16l1 8l-1 8l-7 24l-12 27l-10 17l-14 19l-8 10l-16 14l-52 44l-12 11l-13 15l-51 0l0-150l32-32l35-39l21-20l24-18z"/>
<path fill="#e8e000" d="M245 2101l8-2l8 1l8 2l8 3l14 12l11 16l4 8l4 12l2 16l-2 16l-9 24l-17 32l-20 28l-15 14l-48 38l-12 11l-24 28l-3 2l-41 0l0-135l53-62l36-40l19-16l8-5z"/>
<path fill="#f1e100" d="M242 2105l7-2l8-1l8 2l8 3l8 5l6 5l9 12l7 16l3 12l1 8l-2 16l-8 21l-20 37l-12 18l-6 8l-14 12l-35 24l-15 12l-11 12l-18 24l-4 4l-9 4l-8 2l-12-2l-12-5l0-106l50-69l37-44l11-12l9-8l6-4z"/>
<path fill="#fbe200" d="M241 2109l12-3l12 1l6 2l6 4l5 4l7 8l8 16l4 16l0 16l-5 16l-7 14l-20 34l-10 16l-6 8l-12 9l-38 23l-17 12l-11 12l-14 20l-4 5l-4 2l-4 0l-8-1l-12-8l-8-10l0-43l4-9l16-32l35-60l44-56l9-9z"/>
<path fill="#ffe000" d="M251 2109l10 0l12 5l8 7l8 12l4 12l2 16l-1 12l-5 14l-36 58l-10 12l-6 4l-12 7l-40 16l-16 5l-4 1l-4-1l-4-2l-3-6l-1-8l1-12l2-12l5-16l16-36l8-15l16-21l24-36l12-10l8-4z"/>
<path fill="#ffde00" d="M248 2113l9-1l8 2l8 4l8 9l5 10l3 12l0 12l-3 12l-6 12l-19 24l-16 26l-8 9l-8 6l-12 4l-12 2l-12-1l-4-2l-4-4l-2-4l-2-8l1-16l6-20l5-12l16-25l18-35l6-7l4-3z"/>
<path fill="#ffdb00" d="M248 2117l5-1l8 1l8 4l6 4l4 8l3 12l1 8l-2 9l-4 9l-4 5l-8 8l-16 13l-16 18l-8 7l-4 1l-4 0l-4-1l-4-5l-2-8l2-12l10-28l9-28l5-12l4-5z"/>
<path fill="#ffd800" d="M251 2121l6-1l12 7l2 2l1 4l3 12l-2 8l-4 7l-4 4l-8 3l-8-1l-4-2l-4-3l-2-4l-3-8l0-8l3-12l2-2z"/><g stroke="#000" stroke-linecap="round" fill="none"><path d="M132 1884.8V2098" stroke-width="4.6"/><path d="M254.1 1884.8V2142.4" stroke-width="4.6"/><path d="M324.3 1884.8V2001.2" stroke-width="4.6"/><path d="M461.4 1884.8V2049.9" stroke-width="4.6"/><path d="M513.3 1894.3V2032.2" stroke-width="4.6"/><path d="M529.7 1884.8V2151.9" stroke-width="4.6"/><path d="M545.3 1894.3V1996.9" stroke-width="4.6"/><path d="M597.8 1901.5V2337.7" stroke-width="3"/><path d="M603.8 1884.8V2179.15" stroke-width="4.9"/><path d="M637.6 1884.8V2136.6" stroke-width="4.6"/><path d="M715.7 1884.8V2022" stroke-width="8.4"/><path d="M719.1 1884.8V2243.2" stroke-width="4.6"/><path d="M778.8 1893.1V2088.2" stroke-width="4.6"/><path d="M824.1 1887.2V2041.3" stroke-width="4.6"/><path d="M836.4 1887.2V2041.3" stroke-width="4.6"/><path d="M869 1884.8V2126.6" stroke-width="4.6"/><path d="M904.3 1892V2076.3" stroke-width="4.6"/><path d="M949.7 1892V2194.1" stroke-width="4.6"/><path d="M1098.7 1884.8V2223.4" stroke-width="4.6"/><path d="M1175.9 1892V2066.8" stroke-width="4.6"/><path d="M1214.5 1884.8V2213.9" stroke-width="4.6"/><path d="M1279.2 1892V1987.4" stroke-width="4.6"/><path d="M1294.8 1892V1987.4" stroke-width="4.6"/><path d="M561.6 1897.3V2146.1" stroke-width="5.2" stroke-dasharray="0.1 7.95"/></g><g fill="none" stroke="#000" stroke-width="4.6" stroke-linecap="round" stroke-linejoin="round"><path d="M121.0 1900.0C132.4 1900.9 169.0 1903.5 189.6 1905.3C210.2 1907.1 233.0 1909.7 244.4 1910.8C255.8 1911.9 248.9 1912.1 258.0 1912.0C267.1 1911.9 285.3 1910.6 299.0 1910.3C312.7 1910.0 333.4 1910.3 340.3 1910.3"/><path d="M393.7 1916.3C400.8 1917.9 424.9 1923.5 436.0 1926.0C447.1 1928.5 451.4 1929.8 460.0 1931.4C468.6 1933.0 478.3 1933.7 487.4 1935.5C496.5 1937.3 505.7 1939.3 514.8 1942.3C523.9 1945.3 533.1 1949.2 542.2 1953.3C551.3 1957.4 561.4 1962.0 569.6 1967.0C577.8 1972.0 585.1 1977.0 591.5 1983.4C597.9 1989.8 603.4 1997.1 608.0 2005.3C612.6 2013.5 616.3 2023.1 619.0 2032.7C621.7 2042.3 622.6 2051.9 624.4 2062.9C626.2 2073.9 627.2 2088.0 629.9 2098.5C632.6 2109.0 637.1 2118.9 640.8 2126.0C644.4 2133.1 646.3 2133.9 651.8 2141.0C657.3 2148.1 666.8 2160.7 673.7 2168.5C680.6 2176.3 687.1 2183.4 693.0 2187.7C698.9 2192.0 704.3 2194.1 709.3 2194.5C714.3 2194.9 719.4 2194.3 723.0 2190.4C726.6 2186.5 729.4 2181.7 731.2 2171.2C733.0 2160.7 733.5 2139.5 734.0 2127.4C734.5 2115.3 733.5 2107.9 734.0 2098.5C734.5 2089.1 734.9 2080.1 736.7 2071.0C738.5 2061.9 742.7 2052.8 745.0 2043.7C747.3 2034.6 749.7 2024.5 750.4 2016.3C751.1 2008.1 750.4 2002.6 749.0 1994.4C747.6 1986.2 743.3 1976.1 742.2 1967.0C741.1 1957.9 740.8 1948.8 742.2 1939.6C743.6 1930.4 749.0 1916.6 750.4 1912.0"/><path d="M121.0 1964.2C132.4 1963.8 169.0 1961.5 189.6 1961.5C210.2 1961.5 230.7 1962.4 244.4 1964.2C258.1 1966.0 262.7 1969.1 271.8 1972.5C280.9 1975.9 290.6 1980.9 299.0 1984.8C307.4 1988.7 313.3 1995.3 322.5 1995.8C331.7 1996.2 341.9 1990.0 354.0 1987.5C366.1 1985.0 381.3 1981.4 395.0 1980.7C408.7 1980.0 425.2 1982.5 436.0 1983.4C446.8 1984.3 452.3 1984.6 460.0 1986.0C467.7 1987.4 474.7 1988.8 482.0 1991.6C489.3 1994.4 497.0 1998.0 503.8 2002.6C510.6 2007.2 517.0 2012.6 523.0 2019.0C529.0 2025.4 534.9 2032.8 539.5 2041.0C544.1 2049.2 547.7 2058.8 550.4 2068.4C553.1 2078.0 554.6 2088.6 555.9 2098.5C557.2 2108.4 557.6 2123.1 558.0 2128.0"/><path d="M549.0 2189.0C545.6 2193.3 536.5 2204.3 528.5 2215.0C520.5 2225.7 509.7 2240.6 501.0 2253.4C492.3 2266.2 482.6 2281.3 476.4 2291.8C470.2 2302.3 468.0 2307.3 463.6 2316.4C459.2 2325.5 453.0 2339.1 450.0 2346.6C447.0 2354.1 446.5 2359.1 445.8 2361.6"/><path d="M121.0 2034.0C127.9 2033.1 148.5 2030.6 162.2 2028.6C175.9 2026.6 189.6 2023.6 203.3 2021.8C217.0 2020.0 233.0 2017.7 244.4 2017.7C255.8 2017.7 258.1 2018.4 271.8 2021.8C285.5 2025.2 310.6 2033.2 326.6 2038.2C342.6 2043.2 354.7 2047.9 367.7 2052.0C380.7 2056.1 398.5 2061.2 404.7 2063.0"/><path d="M450.0 2093.0C452.3 2096.2 459.2 2105.3 463.6 2112.0C468.0 2118.7 472.2 2126.9 476.4 2133.0C480.6 2139.1 486.7 2145.9 488.8 2148.5"/><path d="M488.8 2148.5C486.7 2150.7 480.6 2157.3 476.4 2161.6C472.2 2165.8 468.9 2167.4 463.6 2174.0C458.3 2180.6 451.2 2190.0 444.4 2201.4C437.5 2212.8 429.8 2227.4 422.5 2242.5C415.2 2257.6 407.4 2276.7 400.5 2291.8C393.6 2306.9 386.6 2321.4 381.4 2333.0C376.1 2344.6 371.1 2356.8 369.0 2361.6"/><path d="M121.0 2109.5C123.3 2108.3 125.6 2106.7 134.8 2102.6C144.0 2098.5 163.2 2090.5 176.0 2084.8C188.8 2079.1 200.1 2073.0 211.5 2068.4C222.9 2063.8 234.3 2059.2 244.4 2057.4C254.5 2055.6 262.7 2055.6 271.8 2057.4C280.9 2059.2 289.9 2062.9 299.0 2068.4C308.1 2073.9 319.3 2082.9 326.6 2090.3C333.9 2097.7 337.9 2105.9 343.0 2113.0C348.1 2120.1 352.8 2125.8 357.0 2133.0C361.2 2140.2 365.1 2148.5 368.0 2156.0C370.9 2163.5 373.2 2171.5 374.5 2178.0C375.8 2184.5 375.8 2192.2 376.0 2195.0"/><path d="M359.5 2249.3C357.2 2255.5 351.3 2273.7 345.8 2286.3C340.3 2298.9 333.0 2312.1 326.6 2324.7C320.2 2337.2 310.6 2355.4 307.4 2361.6"/><path d="M121.0 2187.7C125.6 2184.0 138.4 2174.9 148.5 2165.8C158.6 2156.7 172.3 2141.4 181.4 2132.9C190.5 2124.4 195.1 2121.2 203.3 2115.0C211.5 2108.8 222.5 2100.1 230.7 2095.8C238.9 2091.5 244.8 2089.5 252.6 2089.0C260.4 2088.5 269.6 2089.6 277.3 2093.0C285.0 2096.4 292.9 2103.2 299.0 2109.5C305.1 2115.8 309.8 2123.8 314.0 2131.0C318.2 2138.2 321.7 2145.5 324.0 2153.0C326.3 2160.5 328.5 2166.6 328.0 2176.0C327.5 2185.4 324.9 2197.6 321.0 2209.6C317.1 2221.6 312.0 2235.2 304.7 2248.0C297.4 2260.8 287.4 2274.4 277.3 2286.3C267.2 2298.2 254.9 2309.6 244.4 2319.2C233.9 2328.8 219.2 2339.7 214.2 2343.8"/><path d="M236.0 2143.8C236.5 2145.7 237.2 2151.7 239.0 2155.0C240.8 2158.3 244.3 2161.7 247.0 2163.5C249.7 2165.3 252.5 2165.8 255.3 2165.8C258.1 2165.8 261.3 2165.3 264.0 2163.5C266.7 2161.7 269.8 2158.3 271.5 2155.0C273.2 2151.7 274.0 2145.7 274.5 2143.8"/><path d="M881.9 1989.4C878.7 1995.0 867.9 2009.3 862.5 2023.0C857.1 2036.7 851.5 2058.0 849.7 2071.5C848.0 2085.0 850.4 2093.9 852.0 2104.0C853.6 2114.1 855.4 2120.3 859.3 2132.0C863.2 2143.7 868.9 2160.0 875.4 2174.0C881.9 2188.0 890.0 2205.8 898.0 2216.0C906.0 2226.2 915.7 2234.0 923.7 2235.0C931.7 2236.0 939.2 2230.0 946.2 2222.0C953.2 2214.0 961.0 2200.3 965.6 2187.0C970.2 2173.7 972.0 2158.6 973.6 2142.0C975.2 2125.4 975.7 2103.1 975.2 2087.6C974.7 2072.1 973.6 2061.9 970.4 2049.0C967.2 2036.1 962.2 2021.8 956.0 2010.3C949.8 1998.8 937.2 1984.8 933.4 1979.7"/><path d="M1031.6 1885.0C1031.9 1888.2 1031.9 1896.0 1033.2 1904.0C1034.5 1912.0 1037.5 1922.8 1039.6 1933.0C1041.7 1943.2 1044.7 1950.2 1046.0 1965.2C1047.3 1980.2 1047.7 2002.8 1047.7 2023.2C1047.7 2043.6 1046.7 2069.8 1046.0 2087.6C1045.3 2105.4 1044.6 2114.5 1043.5 2130.0C1042.4 2145.5 1041.0 2158.7 1039.6 2180.5C1038.1 2202.3 1036.2 2236.8 1034.8 2261.0C1033.4 2285.2 1031.6 2314.7 1031.0 2325.4"/></g></g><g font-family="Liberation Sans, Arial, sans-serif" fill="#000" clip-path="url(#clipD)"><g transform="translate(367.7 1912) rotate(5)"><text x="-9.8" y="13.5" font-size="38" font-weight="bold" font-style="italic" textLength="19.7" lengthAdjust="spacingAndGlyphs">2</text></g><g transform="translate(430.7 2071) rotate(20)"><text x="-9.8" y="13.5" font-size="38" font-weight="bold" font-style="italic" textLength="19.7" lengthAdjust="spacingAndGlyphs">4</text></g><g transform="translate(263.6 2117.7) rotate(20)"><text x="-9.8" y="13.5" font-size="38" font-weight="bold" font-style="italic" textLength="19.7" lengthAdjust="spacingAndGlyphs">7</text></g><g transform="translate(366.3 2220.5) rotate(-78)"><text x="-9.8" y="13.5" font-size="38" font-weight="bold" font-style="italic" textLength="19.7" lengthAdjust="spacingAndGlyphs">5</text></g><g transform="translate(192.3 2353.4) rotate(-45)"><text x="-9.8" y="13.5" font-size="38" font-weight="bold" font-style="italic" textLength="19.7" lengthAdjust="spacingAndGlyphs">6</text></g><g transform="translate(557.3 2160.3) rotate(80)"><text x="-9.8" y="13.5" font-size="38" font-weight="bold" font-style="italic" textLength="19.7" lengthAdjust="spacingAndGlyphs">3</text></g><g transform="translate(756 1888) rotate(-70)"><text x="-9.8" y="13.5" font-size="38" font-weight="bold" font-style="italic" textLength="19.7" lengthAdjust="spacingAndGlyphs">2</text></g><g transform="translate(907.6 1971.7) rotate(0)"><text x="-9.8" y="13.5" font-size="38" font-weight="bold" font-style="italic" textLength="19.7" lengthAdjust="spacingAndGlyphs">3</text></g><g transform="translate(1030 2351) rotate(-80)"><text x="-9.8" y="13.5" font-size="38" font-weight="bold" font-style="italic" textLength="19.7" lengthAdjust="spacingAndGlyphs">2</text></g></g><g font-family="Liberation Sans, Arial, sans-serif"><g fill="none" stroke="#0a0018"><path d="M119.8 1884.7H1303.2" stroke-width="2.8"/><path d="M119.8 2362.5H1303.2" stroke-width="3.2"/><path d="M120.6 1883.5V2364" stroke-width="1.9"/><path d="M1302.2 1883.5V2364" stroke-width="2.5"/></g><text x="79.3" y="1897.5" font-size="38" font-weight="bold" font-style="italic" textLength="19.7" lengthAdjust="spacingAndGlyphs">0</text><text x="79.3" y="2016.1" font-size="38" font-weight="bold" font-style="italic" textLength="19.7" lengthAdjust="spacingAndGlyphs">5</text><text x="59.7" y="2135.5" font-size="38" font-weight="bold" font-style="italic" textLength="39.3" lengthAdjust="spacingAndGlyphs">10</text><text x="59.7" y="2255.0" font-size="38" font-weight="bold" font-style="italic" textLength="39.3" lengthAdjust="spacingAndGlyphs">15</text><text x="59.7" y="2374.3" font-size="38" font-weight="bold" font-style="italic" textLength="39.3" lengthAdjust="spacingAndGlyphs">20</text><text x="112.2" y="2415.5" font-size="38" font-weight="bold" font-style="italic" textLength="19.7" lengthAdjust="spacingAndGlyphs">0</text><text x="342.1" y="2415.5" font-size="38" font-weight="bold" font-style="italic" textLength="39.3" lengthAdjust="spacingAndGlyphs">20</text><text x="583.8" y="2415.5" font-size="38" font-weight="bold" font-style="italic" textLength="39.3" lengthAdjust="spacingAndGlyphs">40</text><text x="826.8" y="2415.5" font-size="38" font-weight="bold" font-style="italic" textLength="39.3" lengthAdjust="spacingAndGlyphs">60</text><text x="1067.6" y="2415.5" font-size="38" font-weight="bold" font-style="italic" textLength="39.3" lengthAdjust="spacingAndGlyphs">80</text><g stroke="#000" stroke-width="2.8"><path d="M120 1885h-10"/><path d="M120 2003.6h-10"/><path d="M120 2123h-10"/><path d="M120 2242.5h-10"/><path d="M120 2361.8h-10"/><path d="M121 2362v11"/><path d="M360.8 2362v11"/><path d="M602.5 2362v11"/><path d="M845.5 2362v11"/><path d="M1086.3 2362v11"/><path d="M241.6 2363v7" stroke-width="1.2" stroke="#aaa"/><path d="M482 2363v7" stroke-width="1.2" stroke="#aaa"/><path d="M723 2363v7" stroke-width="1.2" stroke="#aaa"/><path d="M965.6 2363v7" stroke-width="1.2" stroke="#aaa"/><path d="M1208 2363v7" stroke-width="1.2" stroke="#aaa"/></g><text x="-56.9" y="2095.0" font-size="40"  textLength="181.0" lengthAdjust="spacingAndGlyphs" transform="rotate(-90 33.6 2095)" stroke="#000" stroke-width="1.3">Depth (m)</text><text x="1329.7" y="2345.6" font-size="21" font-weight="bold" font-style="italic" transform="rotate(-90 1329.7 2345.6)">Ocean Data View</text></g><g font-family="Liberation Sans, Arial, sans-serif"><rect x="1350" y="1885" width="40.6" height="476.7" fill="url(#odv)"/><path d="M1350 1885.5L1364.3 1878.5Q1370.3 1876.5 1376.3 1878.5L1390.6 1885.5Z" fill="#fdcf96"/><path d="M1350 2361.2L1364.3 2368.2Q1370.3 2370.2 1376.3 2368.2L1390.6 2361.2Z" fill="#f07af0"/><text x="1401.1" y="1897.0" font-size="36" font-weight="bold" font-style="italic" textLength="36.0" lengthAdjust="spacingAndGlyphs">10</text><text x="1401.1" y="1992.3" font-size="36" font-weight="bold" font-style="italic" textLength="18.0" lengthAdjust="spacingAndGlyphs">8</text><text x="1401.1" y="2087.7" font-size="36" font-weight="bold" font-style="italic" textLength="18.0" lengthAdjust="spacingAndGlyphs">6</text><text x="1401.1" y="2183.0" font-size="36" font-weight="bold" font-style="italic" textLength="18.0" lengthAdjust="spacingAndGlyphs">4</text><text x="1401.1" y="2278.4" font-size="36" font-weight="bold" font-style="italic" textLength="18.0" lengthAdjust="spacingAndGlyphs">2</text><text x="1401.1" y="2373.7" font-size="36" font-weight="bold" font-style="italic" textLength="18.0" lengthAdjust="spacingAndGlyphs">0</text><g stroke="#000" stroke-width="2.8" stroke-linecap="round"><path d="M1350.5 1885h7M1390.1 1885h-7"/><path d="M1350.5 1980.34h7M1390.1 1980.34h-7"/><path d="M1350.5 2075.68h7M1390.1 2075.68h-7"/><path d="M1350.5 2171.02h7M1390.1 2171.02h-7"/><path d="M1350.5 2266.36h7M1390.1 2266.36h-7"/><path d="M1350.5 2361.7h7M1390.1 2361.7h-7"/></g></g>
<g font-family="Liberation Sans, Arial, sans-serif" fill="#000"><text x="9.3" y="35.9" font-size="35.5" font-weight="bold" textLength="24.6" lengthAdjust="spacingAndGlyphs">A</text><text x="9.3" y="694.5" font-size="35.5" font-weight="bold" textLength="23.0" lengthAdjust="spacingAndGlyphs">B</text><text x="9.3" y="1300.3" font-size="35.5" font-weight="bold" textLength="23.5" lengthAdjust="spacingAndGlyphs">C</text><text x="9.3" y="1881.0" font-size="35.5" font-weight="bold" textLength="23.0" lengthAdjust="spacingAndGlyphs">D</text><text x="617.0" y="31.3" font-size="38" font-weight="bold" textLength="308.0" lengthAdjust="spacingAndGlyphs">Temperature (°C)</text><text x="673.0" y="685.6" font-size="38" font-weight="bold" textLength="133.0" lengthAdjust="spacingAndGlyphs">Salinity</text><text x="597.5" y="1295.0" font-size="38" font-weight="bold" textLength="246.0" lengthAdjust="spacingAndGlyphs">Oxygen (mg l</text><text x="844.5" y="1281.0" font-size="19" font-weight="bold" textLength="19.0" lengthAdjust="spacingAndGlyphs">-1</text><text x="865.0" y="1295.0" font-size="38" font-weight="bold">)</text><text x="425.0" y="1868.5" font-size="37" font-weight="bold" textLength="596.0" lengthAdjust="spacingAndGlyphs">Chlorophyll fluorescence (mg m</text><text x="1022.0" y="1855.0" font-size="19" font-weight="bold" textLength="18.0" lengthAdjust="spacingAndGlyphs">-3</text><text x="1041.0" y="1868.5" font-size="37" font-weight="bold">)</text><text x="586.0" y="2485.6" font-size="44.5" font-weight="bold" textLength="281.4" lengthAdjust="spacingAndGlyphs">Distance(km)</text><text x="141.2" y="73.4" font-size="32" font-weight="bold" textLength="254.4" lengthAdjust="spacingAndGlyphs">Dimond Harbour</text><text x="578.0" y="76.4" font-size="32" font-weight="bold" textLength="187.0" lengthAdjust="spacingAndGlyphs">Sagar Island</text><text x="1080.7" y="73.8" font-size="32" font-weight="bold" textLength="182.0" lengthAdjust="spacingAndGlyphs">Sundarbans</text></g><g fill="none" stroke="#000" stroke-width="3.2" stroke-linecap="round" stroke-linejoin="round"><path d="M131 96.9H453.5"/><path d="M131 91.3L139 85.7M131 102.5L139.3 108.1"/><path d="M440.7 85.7L453.5 96.9L440.7 108.1"/></g><g fill="none" stroke="#000" stroke-width="3.2" stroke-linecap="round" stroke-linejoin="round"><path d="M498.8 96.9H975.3"/><path d="M498.8 91.3L506.8 85.7M498.8 102.5L507.1 108.1"/><path d="M962.5 85.7L975.3 96.9L962.5 108.1"/></g><g fill="none" stroke="#000" stroke-width="2.5" stroke-linecap="round" stroke-linejoin="round"><path d="M1051 101H1289"/><path d="M1051 96.9L1056.86 92.8M1051 105.1L1057.08 109.2"/><path d="M1279.5 92.8L1289 101L1279.5 109.2"/></g>
</svg></body></html>
